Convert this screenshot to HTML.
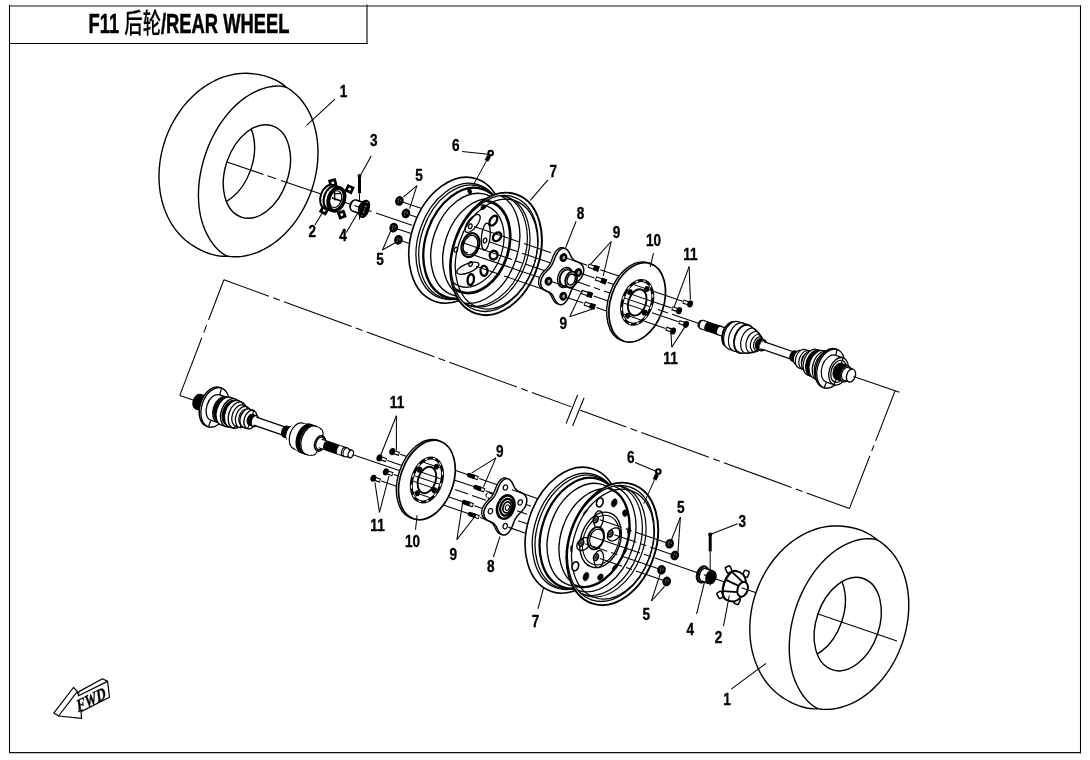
<!DOCTYPE html>
<html><head><meta charset="utf-8"><title>F11 后轮/REAR WHEEL</title>
<style>html,body{margin:0;padding:0;background:#fff}svg{display:block;filter:grayscale(1)}</style></head>
<body>
<svg width="1090" height="760" viewBox="0 0 1090 760" font-family="'Liberation Sans', 'Noto Sans CJK SC', sans-serif" fill="#000">
<rect x="0" y="0" width="1090" height="760" fill="#fff"/>
<path d="M9.5 4.8V752.6M1080.5 5.5V753.2" fill="none" stroke="#000" stroke-width="1.05"/>
<path d="M9 6H1081" fill="none" stroke="#111" stroke-width="1.15"/>
<path d="M9 752.65H1081" fill="none" stroke="#111" stroke-width="1.25"/>
<path d="M9.5 43.5H367.5" fill="none" stroke="#000" stroke-width="1.05"/>
<path d="M367 4.6V44" fill="none" stroke="#111" stroke-width="1.15"/>
<text id="title" transform="translate(88.6 32.6) scale(0.672 1)" font-size="27.3" font-weight="bold" stroke="#000" stroke-width="0.55">F11 <tspan font-weight="500" stroke-width="0.2">后轮</tspan>/REAR WHEEL</text>
<path d="M286.1 87.1 L283.03 84.62 L279.79 82.41 L276.4 80.47 L272.88 78.79 L269.24 77.35 L265.51 76.15 L261.7 75.17 L257.85 74.41 L253.96 73.84 L250.06 73.45 L246.15 73.28 L242.2 73.36 L238.24 73.68 L234.26 74.25 L230.29 75.07 L226.33 76.13 L222.4 77.43 L218.49 78.97 L214.64 80.75 L210.83 82.75 L207.1 84.97 L203.44 87.41 L199.87 90.05 L196.39 92.91 L193.02 95.95 L189.76 99.18 L186.63 102.59 L183.63 106.17 L180.77 109.91 L178.06 113.79 L175.5 117.81 L173.11 121.96 L170.88 126.22 L168.84 130.59 L166.97 135.04 L165.29 139.58 L163.8 144.18 L162.51 148.84 L161.41 153.54 L160.52 158.27 L159.83 163.01 L159.34 167.75 L159.06 172.49 L158.99 177.2 L159.13 181.87 L159.48 186.5 L160.03 191.06 L160.79 195.55 L161.75 199.95 L162.91 204.25 L164.27 208.45 L165.83 212.52 L167.57 216.45 L169.5 220.25 L171.6 223.88 L173.88 227.36 L176.33 230.66 L178.94 233.77 L181.7 236.7 L184.61 239.42 L187.65 241.94 L190.83 244.25 L194.12 246.38 L197.52 248.38 L201.01 250.21 L204.59 251.84 L208.26 253.26 L212 254.44 L215.8 255.35 L219.65 255.97 L223.56 256.28 L227.5 256.25 L227.5 256.25 L231.09 256.64 L234.72 256.78 L238.39 256.68 L242.08 256.34 L245.79 255.75 L249.51 254.92 L253.21 253.85 L256.91 252.54 L260.57 250.99 L264.2 249.21 L267.79 247.2 L271.32 244.96 L274.78 242.52 L278.17 239.87 L281.47 237.02 L284.68 233.98 L287.79 230.76 L290.78 227.36 L293.65 223.8 L296.39 220.08 L299 216.22 L301.47 212.23 L303.78 208.12 L305.94 203.89 L307.93 199.57 L309.76 195.15 L311.42 190.67 L312.89 186.12 L314.19 181.52 L315.3 176.89 L316.22 172.23 L316.95 167.56 L317.49 162.89 L317.83 158.24 L317.97 153.62 L317.93 149.03 L317.68 144.5 L317.24 140.04 L316.61 135.65 L315.78 131.36 L314.76 127.17 L313.56 123.09 L312.18 119.14 L310.61 115.32 L308.86 111.66 L306.94 108.18 L304.85 104.87 L302.59 101.74 L300.18 98.8 L297.62 96.06 L294.92 93.52 L292.1 91.17 L289.15 89.03 L286.1 87.1Z" fill="#fff" stroke="#000" stroke-width="1.4" stroke-linejoin="round"/>
<path d="M286.1 87.1 L283.1 86.47 L280.02 86.12 L276.87 86.05 L273.67 86.25 L270.43 86.69 L267.16 87.38 L263.87 88.3 L260.57 89.43 L257.29 90.77 L254.02 92.3 L250.78 94.03 L247.56 95.98 L244.38 98.15 L241.24 100.53 L238.15 103.11 L235.13 105.89 L232.17 108.86 L229.3 112.01 L226.51 115.33 L223.81 118.82 L221.22 122.45 L218.73 126.23 L216.36 130.14 L214.12 134.17 L212 138.3 L210.02 142.54 L208.18 146.86 L206.49 151.25 L204.95 155.7 L203.56 160.2 L202.34 164.73 L201.27 169.29 L200.37 173.85 L199.64 178.41 L199.08 182.96 L198.7 187.47 L198.48 191.95 L198.44 196.36 L198.58 200.71 L198.88 204.98 L199.36 209.16 L200.01 213.24 L200.83 217.19 L201.82 221.03 L202.97 224.72 L204.28 228.27 L205.75 231.66 L207.36 234.91 L209.1 238.05 L210.96 241.05 L212.95 243.89 L215.06 246.54 L217.3 248.98 L219.66 251.19 L222.15 253.16 L224.77 254.85 L227.5 256.25" fill="none" stroke="#000" stroke-width="1.4" stroke-linejoin="round"/>
<clipPath id="c258"><ellipse cx="256.9" cy="171.5" rx="31.47" ry="48.2" transform="rotate(18.9 256.9 171.5)"/></clipPath>
<g clip-path="url(#c258)">
<ellipse cx="221.6" cy="159.35" rx="30.89" ry="47.3" transform="rotate(18.9 221.6 159.35)" fill="none" stroke="#000" stroke-width="1.4" />
</g>
<ellipse cx="256.9" cy="171.5" rx="31.47" ry="48.2" transform="rotate(18.9 256.9 171.5)" fill="none" stroke="#000" stroke-width="1.4" />
<line x1="226.9" y1="161.9" x2="263.5" y2="174.43" stroke="#000" stroke-width="1.05" />
<line x1="267.5" y1="175.8" x2="276" y2="178.71" stroke="#000" stroke-width="1.05" />
<line x1="281" y1="180.42" x2="321" y2="194.12" stroke="#000" stroke-width="1.05" />
<line x1="343" y1="201.65" x2="354" y2="205.42" stroke="#000" stroke-width="1.05" />
<line x1="368" y1="210.21" x2="371.5" y2="211.41" stroke="#000" stroke-width="1.05" />
<line x1="376" y1="212.95" x2="412" y2="225.27" stroke="#000" stroke-width="1.05" />
<line x1="402.4" y1="201.93" x2="421" y2="208.3" stroke="#000" stroke-width="1.05" />
<line x1="408.9" y1="214.43" x2="417" y2="217.2" stroke="#000" stroke-width="1.05" />
<line x1="396.7" y1="228.63" x2="412" y2="233.87" stroke="#000" stroke-width="1.05" />
<line x1="401.4" y1="240.83" x2="413" y2="244.8" stroke="#000" stroke-width="1.05" />
<ellipse cx="399.4" cy="200.9" rx="4.3" ry="4.9" transform="rotate(18.9 399.4 200.9)" fill="#000"/>
<path d="M399.2 198.7l-1.1 2.0M401.3 199.6l-1.0 1.8M398.5 201.7l-0.6 1.3" stroke="#bbb" stroke-width="0.7" fill="none"/>
<ellipse cx="405.9" cy="213.4" rx="4.3" ry="4.9" transform="rotate(18.9 405.9 213.4)" fill="#000"/>
<path d="M405.7 211.2l-1.1 2.0M407.8 212.1l-1.0 1.8M405 214.2l-0.6 1.3" stroke="#bbb" stroke-width="0.7" fill="none"/>
<ellipse cx="393.7" cy="227.6" rx="4.3" ry="4.9" transform="rotate(18.9 393.7 227.6)" fill="#000"/>
<path d="M393.5 225.4l-1.1 2.0M395.6 226.3l-1.0 1.8M392.8 228.4l-0.6 1.3" stroke="#bbb" stroke-width="0.7" fill="none"/>
<ellipse cx="398.4" cy="239.8" rx="4.3" ry="4.9" transform="rotate(18.9 398.4 239.8)" fill="#000"/>
<path d="M398.2 237.6l-1.1 2.0M400.3 238.5l-1.0 1.8M397.5 240.6l-0.6 1.3" stroke="#bbb" stroke-width="0.7" fill="none"/>
<ellipse cx="455.98" cy="240.2" rx="44.64" ry="64.7" transform="rotate(18.9 455.98 240.2)" fill="#fff" stroke="#000" stroke-width="1.6" />
<ellipse cx="459.58" cy="241.43" rx="41.26" ry="59.8" transform="rotate(18.9 459.58 241.43)" fill="none" stroke="#000" stroke-width="1.25" />
<ellipse cx="461.56" cy="242.11" rx="40.5" ry="58.7" transform="rotate(18.9 461.56 242.11)" fill="none" stroke="#000" stroke-width="1.25" />
<ellipse cx="464.87" cy="243.24" rx="39.33" ry="57" transform="rotate(18.9 464.87 243.24)" fill="none" stroke="#000" stroke-width="2.3" />
<ellipse cx="469.32" cy="244.77" rx="36.5" ry="52.9" transform="rotate(18.9 469.32 244.77)" fill="none" stroke="#000" stroke-width="1.35" />
<ellipse cx="479.82" cy="248.36" rx="35.12" ry="50.9" transform="rotate(18.9 479.82 248.36)" fill="none" stroke="#000" stroke-width="1.35" />
<ellipse cx="496" cy="253.9" rx="43.4" ry="62.9" transform="rotate(18.9 496 253.9)" fill="#fff" stroke="#000" stroke-width="1.95" />
<ellipse cx="494.58" cy="253.41" rx="41.12" ry="59.6" transform="rotate(18.9 494.58 253.41)" fill="none" stroke="#000" stroke-width="1.3" />
<clipPath id="rimu"><ellipse cx="494.58" cy="253.41" rx="41.12" ry="59.6" transform="rotate(18.9 494.58 253.41)"/></clipPath>
<g clip-path="url(#rimu)">
<ellipse cx="496.47" cy="254.06" rx="38.98" ry="56.5" transform="rotate(18.9 496.47 254.06)" fill="none" stroke="#000" stroke-width="1.25" />
<ellipse cx="488.05" cy="251.18" rx="39.67" ry="57.5" transform="rotate(18.9 488.05 251.18)" fill="none" stroke="#000" stroke-width="1.2" />
<ellipse cx="485.4" cy="250.27" rx="39.67" ry="57.5" transform="rotate(18.9 485.4 250.27)" fill="none" stroke="#000" stroke-width="1.2" />
<ellipse cx="478.31" cy="247.84" rx="39.33" ry="57" transform="rotate(18.9 478.31 247.84)" fill="none" stroke="#000" stroke-width="1.35" />
<ellipse cx="475.66" cy="246.94" rx="32.71" ry="47.4" transform="rotate(18.9 475.66 246.94)" fill="none" stroke="#000" stroke-width="2.7" />
<ellipse cx="473.29" cy="246.13" rx="29.19" ry="42.3" transform="rotate(18.9 473.29 246.13)" fill="none" stroke="#000" stroke-width="1.25" />
<ellipse cx="483.6" cy="207.2" rx="3.4" ry="2.0" transform="rotate(-38 483.6 207.2)" fill="#000"/>
<ellipse cx="472.6" cy="223.4" rx="10.8" ry="4.7" transform="rotate(-52 472.6 223.4)" fill="none" stroke="#000" stroke-width="1.3"/>
<ellipse cx="485.8" cy="236.6" rx="13.5" ry="4.3" transform="rotate(-84 485.8 236.6)" fill="none" stroke="#000" stroke-width="1.3"/>
<ellipse cx="467.8" cy="268.2" rx="11.8" ry="4.5" transform="rotate(-22 467.8 268.2)" fill="none" stroke="#000" stroke-width="1.3"/>
<path d="M470.63 266.4 L471.04 266.22 L471.42 265.92 L471.76 265.53 L472.05 265.06 L472.26 264.55 L472.39 264.01 L472.43 263.47 L472.38 262.96 L472.24 262.5 L472.02 262.12 L471.73 261.84 L471.38 261.67 L471 261.61 L470.59 261.68 L470.19 261.87 L469.8 262.17 L469.46 262.56 L469.17 263.02 L468.96 263.54 L468.83 264.08 L468.79 264.62 L468.84 265.13 L468.98 265.59 L469.2 265.97 L469.49 266.25 L469.84 266.42 L470.22 266.47Z" fill="none" stroke="#000" stroke-width="1.3" stroke-linejoin="round"/>
<path d="M486.85 239.97 L486.8 239.46 L486.66 239 L486.44 238.62 L486.15 238.34 L485.8 238.17 L485.42 238.12 L485.01 238.19 L484.61 238.37 L484.22 238.67 L483.88 239.06 L483.59 239.52 L483.38 240.04 L483.25 240.58 L483.21 241.12 L483.26 241.63 L483.4 242.09 L483.62 242.47 L483.91 242.75 L484.26 242.92 L484.64 242.98 L485.05 242.91 L485.45 242.72 L485.84 242.42 L486.18 242.03 L486.47 241.57 L486.68 241.05 L486.81 240.51Z" fill="none" stroke="#000" stroke-width="1.3" stroke-linejoin="round"/>
<path d="M470.28 223.9 L469.88 224.09 L469.49 224.39 L469.15 224.78 L468.86 225.24 L468.65 225.76 L468.52 226.3 L468.48 226.84 L468.53 227.35 L468.67 227.81 L468.89 228.19 L469.18 228.47 L469.53 228.64 L469.91 228.7 L470.32 228.63 L470.72 228.44 L471.11 228.14 L471.45 227.75 L471.74 227.29 L471.95 226.77 L472.08 226.23 L472.12 225.69 L472.07 225.18 L471.93 224.72 L471.71 224.34 L471.42 224.06 L471.07 223.89 L470.69 223.84Z" fill="none" stroke="#000" stroke-width="1.3" stroke-linejoin="round"/>
<path d="M454.06 250.34 L454.11 250.85 L454.25 251.3 L454.47 251.68 L454.76 251.97 L455.11 252.14 L455.5 252.19 L455.9 252.12 L456.31 251.94 L456.69 251.64 L457.03 251.25 L457.32 250.78 L457.53 250.27 L457.66 249.73 L457.7 249.19 L457.65 248.67 L457.51 248.22 L457.29 247.84 L457 247.56 L456.65 247.38 L456.27 247.33 L455.86 247.4 L455.46 247.59 L455.07 247.88 L454.73 248.27 L454.45 248.74 L454.23 249.26 L454.1 249.8Z" fill="none" stroke="#000" stroke-width="1.3" stroke-linejoin="round"/>
<path d="M496.92 216.81 L496.47 216.22 L495.86 215.85 L495.13 215.71 L494.3 215.83 L493.43 216.19 L492.55 216.77 L491.72 217.54 L490.96 218.47 L490.33 219.51 L489.84 220.61 L489.54 221.7 L489.42 222.74 L489.5 223.68 L489.77 224.47 L490.23 225.06 L490.84 225.43 L491.57 225.56 L492.4 225.44 L493.27 225.08 L494.14 224.5 L494.98 223.73 L495.74 222.8 L496.37 221.76 L496.85 220.67 L497.16 219.57 L497.28 218.53 L497.2 217.59Z" fill="none" stroke="#000" stroke-width="2.3" stroke-linejoin="round"/>
<path d="M501.21 235.43 L501.1 234.54 L500.78 233.76 L500.28 233.13 L499.62 232.68 L498.82 232.43 L497.94 232.4 L497.02 232.59 L496.1 232.99 L495.22 233.57 L494.44 234.32 L493.78 235.18 L493.3 236.13 L493 237.1 L492.9 238.06 L493.01 238.95 L493.33 239.73 L493.83 240.36 L494.49 240.81 L495.28 241.06 L496.16 241.09 L497.09 240.9 L498.01 240.5 L498.89 239.92 L499.67 239.18 L500.32 238.31 L500.81 237.37 L501.11 236.39Z" fill="none" stroke="#000" stroke-width="2.3" stroke-linejoin="round"/>
<path d="M497.25 256.66 L497.51 255.71 L497.58 254.73 L497.44 253.76 L497.12 252.87 L496.62 252.08 L495.97 251.45 L495.21 251 L494.36 250.76 L493.48 250.73 L492.61 250.93 L491.78 251.33 L491.05 251.93 L490.45 252.68 L490.01 253.55 L489.75 254.51 L489.69 255.49 L489.82 256.45 L490.14 257.35 L490.64 258.13 L491.29 258.76 L492.06 259.21 L492.9 259.46 L493.78 259.48 L494.66 259.29 L495.48 258.88 L496.21 258.29 L496.81 257.54Z" fill="none" stroke="#000" stroke-width="2.3" stroke-linejoin="round"/>
<path d="M486.11 274.81 L486.68 274.05 L487.1 273.13 L487.37 272.09 L487.48 270.99 L487.4 269.88 L487.16 268.81 L486.76 267.85 L486.22 267.03 L485.57 266.4 L484.84 266 L484.07 265.83 L483.29 265.91 L482.55 266.24 L481.88 266.8 L481.32 267.56 L480.9 268.48 L480.63 269.51 L480.52 270.62 L480.6 271.73 L480.84 272.79 L481.24 273.76 L481.78 274.58 L482.43 275.2 L483.16 275.61 L483.93 275.78 L484.71 275.69 L485.45 275.37Z" fill="none" stroke="#000" stroke-width="2.3" stroke-linejoin="round"/>
<path d="M470.78 285.01 L471.5 284.65 L472.17 284.04 L472.77 283.2 L473.27 282.19 L473.65 281.05 L473.87 279.84 L473.94 278.61 L473.85 277.44 L473.61 276.38 L473.22 275.48 L472.7 274.79 L472.09 274.34 L471.41 274.15 L470.69 274.24 L469.98 274.6 L469.31 275.22 L468.71 276.05 L468.2 277.06 L467.83 278.2 L467.6 279.42 L467.53 280.64 L467.62 281.81 L467.87 282.88 L468.26 283.78 L468.77 284.47 L469.39 284.92 L470.07 285.1Z" fill="none" stroke="#000" stroke-width="2.3" stroke-linejoin="round"/>
<ellipse cx="470.46" cy="245.15" rx="8.49" ry="12.3" transform="rotate(18.9 470.46 245.15)" fill="#fff" stroke="#000" stroke-width="2.2" />
<ellipse cx="470.46" cy="245.15" rx="6.9" ry="10" transform="rotate(18.9 470.46 245.15)" fill="none" stroke="#000" stroke-width="1.3" />
</g>
<line x1="474" y1="226.44" x2="520" y2="242.19" stroke="#000" stroke-width="1.05" />
<line x1="524" y1="243.56" x2="551" y2="252.8" stroke="#000" stroke-width="1.05" />
<line x1="489" y1="241.85" x2="518" y2="251.78" stroke="#000" stroke-width="1.05" />
<line x1="522" y1="253.15" x2="566" y2="268.21" stroke="#000" stroke-width="1.05" />
<line x1="476" y1="266.37" x2="500" y2="274.59" stroke="#000" stroke-width="1.05" />
<line x1="504" y1="275.95" x2="548" y2="291.02" stroke="#000" stroke-width="1.05" />
<line x1="462" y1="250.98" x2="468" y2="253.04" stroke="#000" stroke-width="1.05" />
<line x1="472" y1="254.41" x2="541" y2="278.03" stroke="#000" stroke-width="1.05" />
<line x1="462" y1="242.39" x2="512" y2="259.51" stroke="#000" stroke-width="1.05" />
<line x1="516" y1="260.88" x2="522" y2="262.94" stroke="#000" stroke-width="1.05" />
<line x1="526" y1="264.3" x2="552" y2="273.21" stroke="#000" stroke-width="1.05" />
<path d="M552.4 298.32 L553.38 300.17 L554.59 301.88 L556.06 303.22 L557.75 303.95 L559.6 303.95 L561.47 303.17 L563.25 301.67 L564.83 299.63 L566.16 297.27 L567.24 294.81 L568.14 292.48 L568.95 290.39 L569.77 288.58 L570.68 287 L571.65 285.51 L572.78 284.08 L574.12 282.66 L575.67 281.11 L577.32 279.34 L578.92 277.29 L580.28 274.97 L581.25 272.47 L581.67 269.95 L581.51 267.57 L580.77 265.48 L579.57 263.79 L578.06 262.52 L576.42 261.6 L574.83 260.91 L573.41 260.29 L572.21 259.59 L571.2 258.72 L570.28 257.73 L569.45 256.52 L568.66 255.01 L567.83 253.25 L566.85 251.41 L565.65 249.69 L564.18 248.36 L562.48 247.62 L560.64 247.62 L558.77 248.41 L556.99 249.9 L555.41 251.94 L554.08 254.31 L552.99 256.76 L552.09 259.1 L551.28 261.19 L550.46 263 L549.56 264.58 L548.59 266.07 L547.46 267.49 L546.12 268.92 L544.57 270.46 L542.92 272.23 L541.32 274.29 L539.95 276.61 L538.99 279.1 L538.56 281.62 L538.73 284.01 L539.47 286.09 L540.67 287.78 L542.18 289.06 L543.82 289.97 L545.41 290.66 L546.83 291.28 L548.03 291.99 L549.04 292.85 L549.96 293.84 L550.79 295.05 L551.57 296.56Z" fill="#fff" stroke="#000" stroke-width="1.3" stroke-linejoin="round"/>
<path d="M554.48 299.03 L555.46 300.88 L556.67 302.59 L558.14 303.93 L559.83 304.67 L561.68 304.66 L563.55 303.88 L565.33 302.39 L566.91 300.35 L568.24 297.98 L569.33 295.53 L570.22 293.19 L571.03 291.1 L571.86 289.29 L572.76 287.71 L573.73 286.22 L574.86 284.79 L576.2 283.37 L577.75 281.82 L579.4 280.05 L581 278 L582.37 275.68 L583.33 273.19 L583.76 270.66 L583.59 268.28 L582.85 266.19 L581.65 264.5 L580.14 263.23 L578.5 262.31 L576.91 261.63 L575.49 261 L574.29 260.3 L573.28 259.43 L572.36 258.45 L571.53 257.23 L570.74 255.72 L569.92 253.97 L568.94 252.12 L567.73 250.41 L566.26 249.07 L564.57 248.33 L562.72 248.34 L560.85 249.12 L559.07 250.61 L557.49 252.65 L556.16 255.02 L555.07 257.47 L554.18 259.81 L553.37 261.9 L552.54 263.71 L551.64 265.29 L550.67 266.78 L549.54 268.21 L548.2 269.63 L546.65 271.18 L545 272.95 L543.4 275 L542.03 277.32 L541.07 279.81 L540.64 282.34 L540.81 284.72 L541.55 286.81 L542.75 288.5 L544.26 289.77 L545.9 290.69 L547.49 291.37 L548.91 292 L550.11 292.7 L551.12 293.57 L552.04 294.55 L552.87 295.77 L553.66 297.28Z" fill="#fff" stroke="#000" stroke-width="1.5" stroke-linejoin="round"/>
<ellipse cx="565.04" cy="277.47" rx="7.18" ry="10.4" transform="rotate(18.9 565.04 277.47)" fill="#fff" stroke="#000" stroke-width="1.3" />
<ellipse cx="565.98" cy="277.8" rx="6.42" ry="9.3" transform="rotate(18.9 565.98 277.8)" fill="#fff" stroke="#000" stroke-width="1.2" />
<ellipse cx="565.98" cy="277.8" rx="5.66" ry="8.2" transform="rotate(18.9 565.98 277.8)" fill="#fff" stroke="#000" stroke-width="1.2" />
<path d="M568.64 270.04 L573.84 271.82 L568.53 287.34 L563.33 285.55Z" fill="#fff" stroke="none"/>
<line x1="568.64" y1="270.04" x2="573.84" y2="271.82" stroke="#000" stroke-width="1.2" />
<line x1="563.33" y1="285.55" x2="568.53" y2="287.34" stroke="#000" stroke-width="1.2" />
<ellipse cx="571.19" cy="279.58" rx="5.66" ry="8.2" transform="rotate(18.9 571.19 279.58)" fill="#fff" stroke="#000" stroke-width="1.8" />
<ellipse cx="571.19" cy="279.58" rx="3.86" ry="5.6" transform="rotate(18.9 571.19 279.58)" fill="#fff" stroke="#000" stroke-width="1.5" />
<ellipse cx="563.23" cy="296.23" rx="3.9" ry="4.5" transform="rotate(18.9 563.23 296.23)" fill="#000"/>
<ellipse cx="563.73" cy="296.23" rx="1.3" ry="1.8" transform="rotate(18.9 563.23 296.23)" fill="#aaa"/>
<ellipse cx="578.2" cy="272.53" rx="3.9" ry="4.5" transform="rotate(18.9 578.2 272.53)" fill="#000"/>
<ellipse cx="578.7" cy="272.53" rx="1.3" ry="1.8" transform="rotate(18.9 578.2 272.53)" fill="#aaa"/>
<ellipse cx="563.44" cy="257.54" rx="3.9" ry="4.5" transform="rotate(18.9 563.44 257.54)" fill="#000"/>
<ellipse cx="563.94" cy="257.54" rx="1.3" ry="1.8" transform="rotate(18.9 563.44 257.54)" fill="#aaa"/>
<ellipse cx="548.47" cy="281.25" rx="3.9" ry="4.5" transform="rotate(18.9 548.47 281.25)" fill="#000"/>
<ellipse cx="548.97" cy="281.25" rx="1.3" ry="1.8" transform="rotate(18.9 548.47 281.25)" fill="#aaa"/>
<line x1="600.2" y1="269.65" x2="627" y2="278.82" stroke="#000" stroke-width="1.05" />
<line x1="607.6" y1="282.46" x2="616" y2="285.33" stroke="#000" stroke-width="1.05" />
<line x1="593.6" y1="296.04" x2="611" y2="302" stroke="#000" stroke-width="1.05" />
<line x1="596.3" y1="307.56" x2="610" y2="312.25" stroke="#000" stroke-width="1.05" />
<line x1="566" y1="257.94" x2="587.2" y2="265.2" stroke="#000" stroke-width="1.05" />
<line x1="580" y1="273.01" x2="594.6" y2="278.01" stroke="#000" stroke-width="1.05" />
<line x1="552" y1="281.8" x2="580.6" y2="291.59" stroke="#000" stroke-width="1.05" />
<line x1="566" y1="297.18" x2="583.3" y2="303.11" stroke="#000" stroke-width="1.05" />
<line x1="575" y1="281.08" x2="590" y2="286.22" stroke="#000" stroke-width="1.05" />
<line x1="594" y1="287.59" x2="600" y2="289.64" stroke="#000" stroke-width="1.05" />
<line x1="604" y1="291.01" x2="612" y2="293.75" stroke="#000" stroke-width="1.05" />
<line x1="593.83" y1="267.47" x2="588.16" y2="265.53" stroke="#000" stroke-width="4.4"/>
<line x1="593.83" y1="267.47" x2="589.01" y2="265.82" stroke="#fff" stroke-width="2.2"/>
<line x1="593.55" y1="267.37" x2="599.04" y2="269.25" stroke="#000" stroke-width="5.6" stroke-linecap="butt"/>
<line x1="601.23" y1="280.28" x2="595.56" y2="278.33" stroke="#000" stroke-width="4.4"/>
<line x1="601.23" y1="280.28" x2="596.41" y2="278.63" stroke="#fff" stroke-width="2.2"/>
<line x1="600.95" y1="280.18" x2="606.44" y2="282.06" stroke="#000" stroke-width="5.6" stroke-linecap="butt"/>
<line x1="587.23" y1="293.86" x2="581.56" y2="291.92" stroke="#000" stroke-width="4.4"/>
<line x1="587.23" y1="293.86" x2="582.41" y2="292.21" stroke="#fff" stroke-width="2.2"/>
<line x1="586.95" y1="293.76" x2="592.44" y2="295.64" stroke="#000" stroke-width="5.6" stroke-linecap="butt"/>
<line x1="589.93" y1="305.38" x2="584.26" y2="303.43" stroke="#000" stroke-width="4.4"/>
<line x1="589.93" y1="305.38" x2="585.11" y2="303.73" stroke="#fff" stroke-width="2.2"/>
<line x1="589.65" y1="305.28" x2="595.14" y2="307.16" stroke="#000" stroke-width="5.6" stroke-linecap="butt"/>
<ellipse cx="635.02" cy="301.65" rx="26.45" ry="41" transform="rotate(18.9 635.02 301.65)" fill="#fff" stroke="#000" stroke-width="1.4" />
<ellipse cx="637.2" cy="302.4" rx="26.45" ry="41" transform="rotate(18.9 637.2 302.4)" fill="#fff" stroke="#000" stroke-width="1.7" />
<ellipse cx="637.2" cy="302.4" rx="14.58" ry="22.6" transform="rotate(18.9 637.2 302.4)" fill="#fff" stroke="#000" stroke-width="3.0" />
<line x1="628.71" y1="323.29" x2="631.11" y2="324.11" stroke="#fff" stroke-width="1.1"/>
<line x1="636.39" y1="323.77" x2="639.11" y2="322.62" stroke="#fff" stroke-width="1.1"/>
<line x1="644.3" y1="318.53" x2="646.61" y2="315.72" stroke="#fff" stroke-width="1.1"/>
<line x1="650.3" y1="308.97" x2="651.58" y2="305.24" stroke="#fff" stroke-width="1.1"/>
<line x1="652.79" y1="297.64" x2="652.7" y2="294" stroke="#fff" stroke-width="1.1"/>
<line x1="651.11" y1="287.59" x2="649.66" y2="285.02" stroke="#fff" stroke-width="1.1"/>
<line x1="645.69" y1="281.51" x2="643.29" y2="280.69" stroke="#fff" stroke-width="1.1"/>
<line x1="638.01" y1="281.03" x2="635.29" y2="282.18" stroke="#fff" stroke-width="1.1"/>
<line x1="630.1" y1="286.27" x2="627.79" y2="289.08" stroke="#fff" stroke-width="1.1"/>
<line x1="624.1" y1="295.83" x2="622.82" y2="299.56" stroke="#fff" stroke-width="1.1"/>
<line x1="621.61" y1="307.16" x2="621.7" y2="310.8" stroke="#fff" stroke-width="1.1"/>
<line x1="623.29" y1="317.21" x2="624.74" y2="319.78" stroke="#fff" stroke-width="1.1"/>
<ellipse cx="637.2" cy="302.4" rx="8.77" ry="13.6" transform="rotate(18.9 637.2 302.4)" fill="none" stroke="#000" stroke-width="1.9" />
<clipPath id="dcu"><ellipse cx="637.2" cy="302.4" rx="13.29" ry="20.6" transform="rotate(18.9 637.2 302.4)"/></clipPath>
<g clip-path="url(#dcu)">
<line x1="600" y1="273.05" x2="680" y2="300.44" stroke="#000" stroke-width="1.0" />
<line x1="600" y1="283.52" x2="680" y2="310.91" stroke="#000" stroke-width="1.0" />
<line x1="600" y1="294.96" x2="680" y2="322.35" stroke="#000" stroke-width="1.0" />
<line x1="600" y1="306.01" x2="680" y2="333.4" stroke="#000" stroke-width="1.0" />
<line x1="600" y1="289.64" x2="680" y2="317.03" stroke="#000" stroke-width="1.0" />
<ellipse cx="644.4" cy="312.59" rx="2.6" ry="3.0" transform="rotate(18.9 644.4 312.59)" fill="#000"/>
<ellipse cx="646.74" cy="289.09" rx="2.6" ry="3.0" transform="rotate(18.9 646.74 289.09)" fill="#000"/>
<ellipse cx="630" cy="292.21" rx="2.6" ry="3.0" transform="rotate(18.9 630 292.21)" fill="#000"/>
<ellipse cx="627.66" cy="315.71" rx="2.6" ry="3.0" transform="rotate(18.9 627.66 315.71)" fill="#000"/>
</g>
<line x1="654" y1="291.54" x2="682.6" y2="301.33" stroke="#000" stroke-width="1.05" />
<line x1="651" y1="300.98" x2="671.6" y2="308.03" stroke="#000" stroke-width="1.05" />
<line x1="652" y1="312.76" x2="678.5" y2="321.83" stroke="#000" stroke-width="1.05" />
<line x1="644" y1="321.07" x2="665.5" y2="328.43" stroke="#000" stroke-width="1.05" />
<line x1="658" y1="309.5" x2="668" y2="312.92" stroke="#000" stroke-width="1.05" />
<line x1="672" y1="314.29" x2="699" y2="323.54" stroke="#000" stroke-width="1.05" />
<line x1="688.21" y1="303.25" x2="683" y2="301.47" stroke="#000" stroke-width="4.2"/>
<line x1="688.21" y1="303.25" x2="683.76" y2="301.73" stroke="#fff" stroke-width="1.9"/>
<ellipse cx="690.1" cy="303.9" rx="2.9" ry="3.6" transform="rotate(18.9 690.1 303.9)" fill="#000"/>
<line x1="677.21" y1="309.95" x2="672" y2="308.17" stroke="#000" stroke-width="4.2"/>
<line x1="677.21" y1="309.95" x2="672.76" y2="308.43" stroke="#fff" stroke-width="1.9"/>
<ellipse cx="679.1" cy="310.6" rx="2.9" ry="3.6" transform="rotate(18.9 679.1 310.6)" fill="#000"/>
<line x1="684.11" y1="323.75" x2="678.9" y2="321.97" stroke="#000" stroke-width="4.2"/>
<line x1="684.11" y1="323.75" x2="679.66" y2="322.23" stroke="#fff" stroke-width="1.9"/>
<ellipse cx="686" cy="324.4" rx="2.9" ry="3.6" transform="rotate(18.9 686 324.4)" fill="#000"/>
<line x1="671.11" y1="330.35" x2="665.9" y2="328.57" stroke="#000" stroke-width="4.2"/>
<line x1="671.11" y1="330.35" x2="666.66" y2="328.83" stroke="#fff" stroke-width="1.9"/>
<ellipse cx="673" cy="331" rx="2.9" ry="3.6" transform="rotate(18.9 673 331)" fill="#000"/>
<ellipse cx="700.6" cy="324.08" rx="2.32" ry="3.6" transform="rotate(18.9 700.6 324.08)" fill="#fff" stroke="#000" stroke-width="1.2" />
<path d="M701.77 320.68 L703.63 320.47 L700.77 328.79 L699.43 327.49Z" fill="#fff" stroke="none"/>
<line x1="701.77" y1="320.68" x2="703.63" y2="320.47" stroke="#000" stroke-width="1.2" />
<line x1="699.43" y1="327.49" x2="700.77" y2="328.79" stroke="#000" stroke-width="1.2" />
<ellipse cx="702.2" cy="324.63" rx="2.84" ry="4.4" transform="rotate(18.9 702.2 324.63)" fill="#fff" stroke="#000" stroke-width="1.2" />
<path d="M703.63 320.47 L709.43 322.45 L706.57 330.78 L700.77 328.79Z" fill="#fff" stroke="none"/>
<line x1="703.63" y1="320.47" x2="709.43" y2="322.45" stroke="#000" stroke-width="1.2" />
<line x1="700.77" y1="328.79" x2="706.57" y2="330.78" stroke="#000" stroke-width="1.2" />
<ellipse cx="708" cy="326.62" rx="2.84" ry="4.4" transform="rotate(18.9 708 326.62)" fill="#000" stroke="#000" stroke-width="1.2" />
<path d="M709.43 322.45 L720.93 326.39 L718.07 334.72 L706.57 330.78Z" fill="#000" stroke="none"/>
<line x1="709.43" y1="322.45" x2="720.93" y2="326.39" stroke="#000" stroke-width="1.2" />
<line x1="706.57" y1="330.78" x2="718.07" y2="334.72" stroke="#000" stroke-width="1.2" />
<ellipse cx="719.5" cy="330.55" rx="2.84" ry="4.4" transform="rotate(18.9 719.5 330.55)" fill="#fff" stroke="#000" stroke-width="1.2" />
<path d="M720.93 326.39 L730.43 329.64 L727.57 337.97 L718.07 334.72Z" fill="#fff" stroke="none"/>
<line x1="720.93" y1="326.39" x2="730.43" y2="329.64" stroke="#000" stroke-width="1.2" />
<line x1="718.07" y1="334.72" x2="727.57" y2="337.97" stroke="#000" stroke-width="1.2" />
<ellipse cx="729" cy="333.81" rx="2.84" ry="4.4" transform="rotate(18.9 729 333.81)" fill="#fff" stroke="#000" stroke-width="1.2" />
<ellipse cx="729.5" cy="333.98" rx="6.45" ry="10" transform="rotate(18.9 729.5 333.98)" fill="#fff" stroke="#000" stroke-width="1.8" />
<path d="M732.74 324.52 L735.15 322.38 L726.85 346.6 L726.26 343.44Z" fill="#fff" stroke="none"/>
<line x1="732.74" y1="324.52" x2="735.15" y2="322.38" stroke="#000" stroke-width="1.2" />
<line x1="726.26" y1="343.44" x2="726.85" y2="346.6" stroke="#000" stroke-width="1.2" />
<ellipse cx="731" cy="334.49" rx="8.26" ry="12.8" transform="rotate(18.9 731 334.49)" fill="#fff" stroke="#000" stroke-width="2.0" />
<path d="M735.15 322.38 L738.16 321.72 L728.84 348.97 L726.85 346.6Z" fill="#fff" stroke="none"/>
<line x1="735.15" y1="322.38" x2="738.16" y2="321.72" stroke="#000" stroke-width="1.2" />
<line x1="726.85" y1="346.6" x2="728.84" y2="348.97" stroke="#000" stroke-width="1.2" />
<ellipse cx="733.5" cy="335.35" rx="9.29" ry="14.4" transform="rotate(18.9 733.5 335.35)" fill="#fff" stroke="#000" stroke-width="1.2" />
<path d="M738.16 321.72 L743.26 323.15 L733.74 350.97 L728.84 348.97Z" fill="#fff" stroke="none"/>
<line x1="738.16" y1="321.72" x2="743.26" y2="323.15" stroke="#000" stroke-width="1.2" />
<line x1="728.84" y1="348.97" x2="733.74" y2="350.97" stroke="#000" stroke-width="1.2" />
<ellipse cx="738.5" cy="337.06" rx="9.48" ry="14.7" transform="rotate(18.9 738.5 337.06)" fill="#fff" stroke="#000" stroke-width="1.2" />
<path d="M743.26 323.15 L748.73 325.13 L739.27 352.76 L733.74 350.97Z" fill="#fff" stroke="none"/>
<line x1="743.26" y1="323.15" x2="748.73" y2="325.13" stroke="#000" stroke-width="1.2" />
<line x1="733.74" y1="350.97" x2="739.27" y2="352.76" stroke="#000" stroke-width="1.2" />
<ellipse cx="744" cy="338.94" rx="9.42" ry="14.6" transform="rotate(18.9 744 338.94)" fill="#fff" stroke="#000" stroke-width="1.9" />
<path d="M748.73 325.13 L753.71 328.53 L745.29 353.13 L739.27 352.76Z" fill="#fff" stroke="none"/>
<line x1="748.73" y1="325.13" x2="753.71" y2="328.53" stroke="#000" stroke-width="1.2" />
<line x1="739.27" y1="352.76" x2="745.29" y2="353.13" stroke="#000" stroke-width="1.2" />
<ellipse cx="749.5" cy="340.83" rx="8.38" ry="13" transform="rotate(18.9 749.5 340.83)" fill="#fff" stroke="#000" stroke-width="1.2" />
<path d="M753.71 328.53 L757.06 331.79 L749.94 352.6 L745.29 353.13Z" fill="#fff" stroke="none"/>
<line x1="753.71" y1="328.53" x2="757.06" y2="331.79" stroke="#000" stroke-width="1.2" />
<line x1="745.29" y1="353.13" x2="749.94" y2="352.6" stroke="#000" stroke-width="1.2" />
<ellipse cx="753.5" cy="342.2" rx="7.1" ry="11" transform="rotate(18.9 753.5 342.2)" fill="#fff" stroke="#000" stroke-width="1.2" />
<path d="M757.06 331.79 L759.42 334.71 L753.58 351.74 L749.94 352.6Z" fill="#fff" stroke="none"/>
<line x1="757.06" y1="331.79" x2="759.42" y2="334.71" stroke="#000" stroke-width="1.2" />
<line x1="749.94" y1="352.6" x2="753.58" y2="351.74" stroke="#000" stroke-width="1.2" />
<ellipse cx="756.5" cy="343.22" rx="5.8" ry="9" transform="rotate(18.9 756.5 343.22)" fill="#fff" stroke="#000" stroke-width="1.2" />
<path d="M759.42 334.71 L760.83 337.1 L756.17 350.72 L753.58 351.74Z" fill="#fff" stroke="none"/>
<line x1="759.42" y1="334.71" x2="760.83" y2="337.1" stroke="#000" stroke-width="1.2" />
<line x1="753.58" y1="351.74" x2="756.17" y2="350.72" stroke="#000" stroke-width="1.2" />
<ellipse cx="758.5" cy="343.91" rx="4.64" ry="7.2" transform="rotate(18.9 758.5 343.91)" fill="#fff" stroke="#000" stroke-width="1.2" />
<path d="M760.83 337.1 L761.31 338.95 L757.69 349.55 L756.17 350.72Z" fill="#fff" stroke="none"/>
<line x1="760.83" y1="337.1" x2="761.31" y2="338.95" stroke="#000" stroke-width="1.2" />
<line x1="756.17" y1="350.72" x2="757.69" y2="349.55" stroke="#000" stroke-width="1.2" />
<ellipse cx="759.5" cy="344.25" rx="3.61" ry="5.6" transform="rotate(18.9 759.5 344.25)" fill="#000" stroke="#000" stroke-width="1.6" />
<path d="M761.31 338.95 L764.31 339.98 L760.69 350.57 L757.69 349.55Z" fill="#000" stroke="none"/>
<line x1="761.31" y1="338.95" x2="764.31" y2="339.98" stroke="#000" stroke-width="1.2" />
<line x1="757.69" y1="349.55" x2="760.69" y2="350.57" stroke="#000" stroke-width="1.2" />
<ellipse cx="762.5" cy="345.28" rx="3.61" ry="5.6" transform="rotate(18.9 762.5 345.28)" fill="#fff" stroke="#000" stroke-width="1.4" />
<path d="M764.31 339.98 L763.86 341.62 L761.34 349 L760.69 350.57Z" fill="#fff" stroke="none"/>
<line x1="764.31" y1="339.98" x2="763.86" y2="341.62" stroke="#000" stroke-width="1.2" />
<line x1="760.69" y1="350.57" x2="761.34" y2="349" stroke="#000" stroke-width="1.2" />
<ellipse cx="762.6" cy="345.31" rx="2.52" ry="3.9" transform="rotate(18.9 762.6 345.31)" fill="#fff" stroke="#000" stroke-width="1.0" />
<ellipse cx="762.6" cy="345.31" rx="2.52" ry="3.9" transform="rotate(18.9 762.6 345.31)" fill="#fff" stroke="none" stroke-width="0.01" />
<path d="M763.86 341.62 L796.26 352.71 L793.74 360.09 L761.34 349Z" fill="#fff" stroke="none"/>
<line x1="763.86" y1="341.62" x2="796.26" y2="352.71" stroke="#000" stroke-width="1.2" />
<line x1="761.34" y1="349" x2="793.74" y2="360.09" stroke="#000" stroke-width="1.2" />
<ellipse cx="795" cy="356.4" rx="2.52" ry="3.9" transform="rotate(18.9 795 356.4)" fill="#fff" stroke="none" stroke-width="0.01" />
<ellipse cx="793.5" cy="355.89" rx="3.35" ry="5.2" transform="rotate(18.9 793.5 355.89)" fill="#000" stroke="#000" stroke-width="1.2" />
<path d="M795.18 350.97 L799.68 352.51 L796.32 362.35 L791.82 360.81Z" fill="#000" stroke="none"/>
<line x1="795.18" y1="350.97" x2="799.68" y2="352.51" stroke="#000" stroke-width="1.2" />
<line x1="791.82" y1="360.81" x2="796.32" y2="362.35" stroke="#000" stroke-width="1.2" />
<ellipse cx="798" cy="357.43" rx="3.35" ry="5.2" transform="rotate(18.9 798 357.43)" fill="#fff" stroke="#000" stroke-width="1.15" />
<path d="M799.68 352.51 L800.93 350.51 L796.07 364.7 L796.32 362.35Z" fill="#fff" stroke="none"/>
<line x1="799.68" y1="352.51" x2="800.93" y2="350.51" stroke="#000" stroke-width="1.2" />
<line x1="796.32" y1="362.35" x2="796.07" y2="364.7" stroke="#000" stroke-width="1.2" />
<ellipse cx="798.5" cy="357.6" rx="4.84" ry="7.5" transform="rotate(18.9 798.5 357.6)" fill="#fff" stroke="#000" stroke-width="1.15" />
<path d="M800.93 350.51 L805.14 349.62 L798.86 367.98 L796.07 364.7Z" fill="#fff" stroke="none"/>
<line x1="800.93" y1="350.51" x2="805.14" y2="349.62" stroke="#000" stroke-width="1.2" />
<line x1="796.07" y1="364.7" x2="798.86" y2="367.98" stroke="#000" stroke-width="1.2" />
<ellipse cx="802" cy="358.8" rx="6.26" ry="9.7" transform="rotate(18.9 802 358.8)" fill="#fff" stroke="#000" stroke-width="1.15" />
<path d="M805.14 349.62 L808.64 350.82 L802.36 369.18 L798.86 367.98Z" fill="#fff" stroke="none"/>
<line x1="805.14" y1="349.62" x2="808.64" y2="350.82" stroke="#000" stroke-width="1.2" />
<line x1="798.86" y1="367.98" x2="802.36" y2="369.18" stroke="#000" stroke-width="1.2" />
<ellipse cx="805.5" cy="360" rx="6.26" ry="9.7" transform="rotate(18.9 805.5 360)" fill="#fff" stroke="#000" stroke-width="1.15" />
<path d="M808.64 350.82 L809.66 352.75 L804.34 368.27 L802.36 369.18Z" fill="#fff" stroke="none"/>
<line x1="808.64" y1="350.82" x2="809.66" y2="352.75" stroke="#000" stroke-width="1.2" />
<line x1="802.36" y1="369.18" x2="804.34" y2="368.27" stroke="#000" stroke-width="1.2" />
<ellipse cx="807" cy="360.51" rx="5.29" ry="8.2" transform="rotate(18.9 807 360.51)" fill="#fff" stroke="#000" stroke-width="1.15" />
<path d="M809.66 352.75 L812.5 350.98 L805.5 371.42 L804.34 368.27Z" fill="#fff" stroke="none"/>
<line x1="809.66" y1="352.75" x2="812.5" y2="350.98" stroke="#000" stroke-width="1.2" />
<line x1="804.34" y1="368.27" x2="805.5" y2="371.42" stroke="#000" stroke-width="1.2" />
<ellipse cx="809" cy="361.2" rx="6.97" ry="10.8" transform="rotate(18.9 809 361.2)" fill="#fff" stroke="#000" stroke-width="1.15" />
<path d="M812.5 350.98 L816.91 349.53 L808.09 375.26 L805.5 371.42Z" fill="#fff" stroke="none"/>
<line x1="812.5" y1="350.98" x2="816.91" y2="349.53" stroke="#000" stroke-width="1.2" />
<line x1="805.5" y1="371.42" x2="808.09" y2="375.26" stroke="#000" stroke-width="1.2" />
<ellipse cx="812.5" cy="362.4" rx="8.77" ry="13.6" transform="rotate(18.9 812.5 362.4)" fill="#fff" stroke="#000" stroke-width="1.15" />
<path d="M816.91 349.53 L819.41 350.38 L810.59 376.12 L808.09 375.26Z" fill="#fff" stroke="none"/>
<line x1="816.91" y1="349.53" x2="819.41" y2="350.38" stroke="#000" stroke-width="1.2" />
<line x1="808.09" y1="375.26" x2="810.59" y2="376.12" stroke="#000" stroke-width="1.2" />
<ellipse cx="815" cy="363.25" rx="8.77" ry="13.6" transform="rotate(18.9 815 363.25)" fill="#000" stroke="#000" stroke-width="1.15" />
<path d="M819.41 350.38 L822.58 352.53 L814.42 376.37 L810.59 376.12Z" fill="#000" stroke="none"/>
<line x1="819.41" y1="350.38" x2="822.58" y2="352.53" stroke="#000" stroke-width="1.2" />
<line x1="810.59" y1="376.12" x2="814.42" y2="376.37" stroke="#000" stroke-width="1.2" />
<ellipse cx="818.5" cy="364.45" rx="8.13" ry="12.6" transform="rotate(18.9 818.5 364.45)" fill="#fff" stroke="#000" stroke-width="1.15" />
<path d="M822.58 352.53 L823.73 350.81 L814.27 378.43 L814.42 376.37Z" fill="#fff" stroke="none"/>
<line x1="822.58" y1="352.53" x2="823.73" y2="350.81" stroke="#000" stroke-width="1.2" />
<line x1="814.42" y1="376.37" x2="814.27" y2="378.43" stroke="#000" stroke-width="1.2" />
<ellipse cx="819" cy="364.62" rx="9.42" ry="14.6" transform="rotate(18.9 819 364.62)" fill="#fff" stroke="#000" stroke-width="1.15" />
<path d="M823.73 350.81 L828.05 351.23 L817.95 380.75 L814.27 378.43Z" fill="#fff" stroke="none"/>
<line x1="823.73" y1="350.81" x2="828.05" y2="351.23" stroke="#000" stroke-width="1.2" />
<line x1="814.27" y1="378.43" x2="817.95" y2="380.75" stroke="#000" stroke-width="1.2" />
<ellipse cx="823" cy="365.99" rx="10.06" ry="15.6" transform="rotate(18.9 823 365.99)" fill="#fff" stroke="#000" stroke-width="1.15" />
<path d="M828.05 351.23 L830.05 351.92 L819.95 381.43 L817.95 380.75Z" fill="#fff" stroke="none"/>
<line x1="828.05" y1="351.23" x2="830.05" y2="351.92" stroke="#000" stroke-width="1.2" />
<line x1="817.95" y1="380.75" x2="819.95" y2="381.43" stroke="#000" stroke-width="1.2" />
<ellipse cx="825" cy="366.68" rx="10.06" ry="15.6" transform="rotate(18.9 825 366.68)" fill="#fff" stroke="#000" stroke-width="1.15" />
<path d="M830.05 351.92 L835.74 349 L822.66 387.22 L819.95 381.43Z" fill="#fff" stroke="none"/>
<line x1="830.05" y1="351.92" x2="835.74" y2="349" stroke="#000" stroke-width="1.2" />
<line x1="819.95" y1="381.43" x2="822.66" y2="387.22" stroke="#000" stroke-width="1.2" />
<ellipse cx="829.2" cy="368.11" rx="13.03" ry="20.2" transform="rotate(18.9 829.2 368.11)" fill="#fff" stroke="#000" stroke-width="1.5" />
<path d="M835.74 349 L837.24 349.52 L824.16 387.74 L822.66 387.22Z" fill="#fff" stroke="none"/>
<line x1="835.74" y1="349" x2="837.24" y2="349.52" stroke="#000" stroke-width="1.2" />
<line x1="822.66" y1="387.22" x2="824.16" y2="387.74" stroke="#000" stroke-width="1.2" />
<ellipse cx="830.7" cy="368.63" rx="13.03" ry="20.2" transform="rotate(18.9 830.7 368.63)" fill="#fff" stroke="#000" stroke-width="1.3" />
<path d="M837.24 349.52 L835.6 355.3 L826.4 382.16 L824.16 387.74Z" fill="#fff" stroke="none"/>
<line x1="837.24" y1="349.52" x2="835.6" y2="355.3" stroke="#000" stroke-width="1.2" />
<line x1="824.16" y1="387.74" x2="826.4" y2="382.16" stroke="#000" stroke-width="1.2" />
<ellipse cx="831" cy="368.73" rx="9.16" ry="14.2" transform="rotate(18.9 831 368.73)" fill="#fff" stroke="#000" stroke-width="1.15" />
<path d="M835.6 355.3 L843.1 357.86 L833.9 384.73 L826.4 382.16Z" fill="#fff" stroke="none"/>
<line x1="835.6" y1="355.3" x2="843.1" y2="357.86" stroke="#000" stroke-width="1.2" />
<line x1="826.4" y1="382.16" x2="833.9" y2="384.73" stroke="#000" stroke-width="1.2" />
<ellipse cx="838.5" cy="371.3" rx="9.16" ry="14.2" transform="rotate(18.9 838.5 371.3)" fill="#fff" stroke="#000" stroke-width="1.3" />
<path d="M843.1 357.86 L842.29 360.55 L834.91 382.12 L833.9 384.73Z" fill="#fff" stroke="none"/>
<line x1="843.1" y1="357.86" x2="842.29" y2="360.55" stroke="#000" stroke-width="1.2" />
<line x1="833.9" y1="384.73" x2="834.91" y2="382.12" stroke="#000" stroke-width="1.2" />
<ellipse cx="838.6" cy="371.33" rx="7.35" ry="11.4" transform="rotate(18.9 838.6 371.33)" fill="#fff" stroke="#000" stroke-width="1.2" />
<path d="M842.29 360.55 L841.39 363.51 L836.01 379.22 L834.91 382.12Z" fill="#fff" stroke="none"/>
<line x1="842.29" y1="360.55" x2="841.39" y2="363.51" stroke="#000" stroke-width="1.2" />
<line x1="834.91" y1="382.12" x2="836.01" y2="379.22" stroke="#000" stroke-width="1.2" />
<ellipse cx="838.7" cy="371.37" rx="5.35" ry="8.3" transform="rotate(18.9 838.7 371.37)" fill="#000" stroke="#000" stroke-width="1.0" />
<path d="M841.39 363.51 L848.69 366.01 L843.31 381.72 L836.01 379.22Z" fill="#000" stroke="none"/>
<line x1="841.39" y1="363.51" x2="848.69" y2="366.01" stroke="#000" stroke-width="1.2" />
<line x1="836.01" y1="379.22" x2="843.31" y2="381.72" stroke="#000" stroke-width="1.2" />
<ellipse cx="846" cy="373.87" rx="5.35" ry="8.3" transform="rotate(18.9 846 373.87)" fill="#fff" stroke="#000" stroke-width="1.15" />
<path d="M848.69 366.01 L848.27 367.56 L843.93 380.24 L843.31 381.72Z" fill="#fff" stroke="none"/>
<line x1="848.69" y1="366.01" x2="848.27" y2="367.56" stroke="#000" stroke-width="1.2" />
<line x1="843.31" y1="381.72" x2="843.93" y2="380.24" stroke="#000" stroke-width="1.2" />
<ellipse cx="846.1" cy="373.9" rx="4.32" ry="6.7" transform="rotate(18.9 846.1 373.9)" fill="#fff" stroke="#000" stroke-width="1.15" />
<path d="M848.27 367.56 L853.17 369.24 L848.83 381.92 L843.93 380.24Z" fill="#fff" stroke="none"/>
<line x1="848.27" y1="367.56" x2="853.17" y2="369.24" stroke="#000" stroke-width="1.2" />
<line x1="843.93" y1="380.24" x2="848.83" y2="381.92" stroke="#000" stroke-width="1.2" />
<ellipse cx="851" cy="375.58" rx="4.32" ry="6.7" transform="rotate(18.9 851 375.58)" fill="#fff" stroke="#000" stroke-width="1.3" />
<line x1="853.5" y1="376.43" x2="899.5" y2="392.18" stroke="#000" stroke-width="1.05" />
<line x1="223.9" y1="279.8" x2="179.8" y2="395.4" stroke="#000" stroke-width="1.05" stroke-dasharray="43 5.5 8 5.5 200"/>
<line x1="895.2" y1="390.5" x2="849.4" y2="508.6" stroke="#000" stroke-width="1.05" stroke-dasharray="54 5 6 5 200"/>
<line x1="223.9" y1="279.8" x2="571.3" y2="406.87" stroke="#000" stroke-width="1.05" stroke-dasharray="72 4.5 7 4.5" stroke-dashoffset="24"/>
<line x1="580.3" y1="410.17" x2="849.4" y2="508.6" stroke="#000" stroke-width="1.05" stroke-dasharray="72 4.5 7 4.5" stroke-dashoffset="23"/>
<line x1="577.7" y1="394.7" x2="566.1" y2="423.5" stroke="#000" stroke-width="1.05" />
<line x1="584.1" y1="397.8" x2="572.6" y2="426" stroke="#000" stroke-width="1.05" />
<line x1="179.8" y1="395.4" x2="198" y2="401.63" stroke="#000" stroke-width="1.05" />
<ellipse cx="198" cy="401.63" rx="4.9" ry="7.6" transform="rotate(18.9 198 401.63)" fill="#000" stroke="#000" stroke-width="1.0" />
<path d="M200.46 394.44 L206.96 396.67 L202.04 411.05 L195.54 408.82Z" fill="#000" stroke="none"/>
<line x1="200.46" y1="394.44" x2="206.96" y2="396.67" stroke="#000" stroke-width="1.2" />
<line x1="195.54" y1="408.82" x2="202.04" y2="411.05" stroke="#000" stroke-width="1.2" />
<ellipse cx="204.5" cy="403.86" rx="4.9" ry="7.6" transform="rotate(18.9 204.5 403.86)" fill="#000" stroke="#000" stroke-width="1.0" />
<path d="M206.96 396.67 L208.46 397.18 L203.54 411.56 L202.04 411.05Z" fill="#000" stroke="none"/>
<line x1="206.96" y1="396.67" x2="208.46" y2="397.18" stroke="#000" stroke-width="1.2" />
<line x1="202.04" y1="411.05" x2="203.54" y2="411.56" stroke="#000" stroke-width="1.2" />
<ellipse cx="206" cy="404.37" rx="4.9" ry="7.6" transform="rotate(18.9 206 404.37)" fill="#fff" stroke="#000" stroke-width="1.0" />
<ellipse cx="213.3" cy="406.87" rx="13.16" ry="20.4" transform="rotate(18.9 213.3 406.87)" fill="#fff" stroke="#000" stroke-width="1.5" />
<path d="M219.91 387.57 L221.61 388.15 L208.39 426.75 L206.69 426.17Z" fill="#fff" stroke="none"/>
<line x1="219.91" y1="387.57" x2="221.61" y2="388.15" stroke="#000" stroke-width="1.2" />
<line x1="206.69" y1="426.17" x2="208.39" y2="426.75" stroke="#000" stroke-width="1.2" />
<ellipse cx="215" cy="407.45" rx="13.16" ry="20.4" transform="rotate(18.9 215 407.45)" fill="#fff" stroke="#000" stroke-width="1.3" />
<path d="M221.61 388.15 L219.64 394.88 L210.96 420.23 L208.39 426.75Z" fill="#fff" stroke="none"/>
<line x1="221.61" y1="388.15" x2="219.64" y2="394.88" stroke="#000" stroke-width="1.2" />
<line x1="208.39" y1="426.75" x2="210.96" y2="420.23" stroke="#000" stroke-width="1.2" />
<ellipse cx="215.3" cy="407.55" rx="8.64" ry="13.4" transform="rotate(18.9 215.3 407.55)" fill="#fff" stroke="#000" stroke-width="1.3" />
<path d="M219.64 394.88 L226.34 397.17 L217.66 422.53 L210.96 420.23Z" fill="#fff" stroke="none"/>
<line x1="219.64" y1="394.88" x2="226.34" y2="397.17" stroke="#000" stroke-width="1.2" />
<line x1="210.96" y1="420.23" x2="217.66" y2="422.53" stroke="#000" stroke-width="1.2" />
<ellipse cx="222" cy="409.85" rx="8.64" ry="13.4" transform="rotate(18.9 222 409.85)" fill="#fff" stroke="#000" stroke-width="1.5" />
<path d="M226.34 397.17 L226.15 398.37 L218.25 421.46 L217.66 422.53Z" fill="#fff" stroke="none"/>
<line x1="226.34" y1="397.17" x2="226.15" y2="398.37" stroke="#000" stroke-width="1.2" />
<line x1="217.66" y1="422.53" x2="218.25" y2="421.46" stroke="#000" stroke-width="1.2" />
<ellipse cx="222.2" cy="409.92" rx="7.87" ry="12.2" transform="rotate(18.9 222.2 409.92)" fill="#000" stroke="#000" stroke-width="1.0" />
<path d="M226.15 398.37 L229.45 399.5 L221.55 422.59 L218.25 421.46Z" fill="#000" stroke="none"/>
<line x1="226.15" y1="398.37" x2="229.45" y2="399.5" stroke="#000" stroke-width="1.2" />
<line x1="218.25" y1="421.46" x2="221.55" y2="422.59" stroke="#000" stroke-width="1.2" />
<ellipse cx="225.5" cy="411.05" rx="7.87" ry="12.2" transform="rotate(18.9 225.5 411.05)" fill="#fff" stroke="#000" stroke-width="1.2" />
<path d="M229.45 399.5 L230.73 397.4 L221.27 425.03 L221.55 422.59Z" fill="#fff" stroke="none"/>
<line x1="229.45" y1="399.5" x2="230.73" y2="397.4" stroke="#000" stroke-width="1.2" />
<line x1="221.55" y1="422.59" x2="221.27" y2="425.03" stroke="#000" stroke-width="1.2" />
<ellipse cx="226" cy="411.22" rx="9.42" ry="14.6" transform="rotate(18.9 226 411.22)" fill="#fff" stroke="#000" stroke-width="1.4" />
<path d="M230.73 397.4 L235.23 398.95 L225.77 426.57 L221.27 425.03Z" fill="#fff" stroke="none"/>
<line x1="230.73" y1="397.4" x2="235.23" y2="398.95" stroke="#000" stroke-width="1.2" />
<line x1="221.27" y1="425.03" x2="225.77" y2="426.57" stroke="#000" stroke-width="1.2" />
<ellipse cx="230.5" cy="412.76" rx="9.42" ry="14.6" transform="rotate(18.9 230.5 412.76)" fill="#fff" stroke="#000" stroke-width="1.4" />
<path d="M235.23 398.95 L235.21 400.63 L226.79 425.23 L225.77 426.57Z" fill="#fff" stroke="none"/>
<line x1="235.23" y1="398.95" x2="235.21" y2="400.63" stroke="#000" stroke-width="1.2" />
<line x1="225.77" y1="426.57" x2="226.79" y2="425.23" stroke="#000" stroke-width="1.2" />
<ellipse cx="231" cy="412.93" rx="8.38" ry="13" transform="rotate(18.9 231 412.93)" fill="#000" stroke="#000" stroke-width="1.0" />
<path d="M235.21 400.63 L237.71 401.49 L229.29 426.08 L226.79 425.23Z" fill="#000" stroke="none"/>
<line x1="235.21" y1="400.63" x2="237.71" y2="401.49" stroke="#000" stroke-width="1.2" />
<line x1="226.79" y1="425.23" x2="229.29" y2="426.08" stroke="#000" stroke-width="1.2" />
<ellipse cx="233.5" cy="413.79" rx="8.38" ry="13" transform="rotate(18.9 233.5 413.79)" fill="#fff" stroke="#000" stroke-width="1.2" />
<path d="M237.71 401.49 L238.53 400.71 L229.47 427.2 L229.29 426.08Z" fill="#fff" stroke="none"/>
<line x1="237.71" y1="401.49" x2="238.53" y2="400.71" stroke="#000" stroke-width="1.2" />
<line x1="229.29" y1="426.08" x2="229.47" y2="427.2" stroke="#000" stroke-width="1.2" />
<ellipse cx="234" cy="413.96" rx="9.03" ry="14" transform="rotate(18.9 234 413.96)" fill="#fff" stroke="#000" stroke-width="1.3" />
<path d="M238.53 400.71 L241.91 402.29 L233.09 428.02 L229.47 427.2Z" fill="#fff" stroke="none"/>
<line x1="238.53" y1="400.71" x2="241.91" y2="402.29" stroke="#000" stroke-width="1.2" />
<line x1="229.47" y1="427.2" x2="233.09" y2="428.02" stroke="#000" stroke-width="1.2" />
<ellipse cx="237.5" cy="415.16" rx="8.77" ry="13.6" transform="rotate(18.9 237.5 415.16)" fill="#fff" stroke="#000" stroke-width="1.3" />
<path d="M241.91 402.29 L243.13 405.24 L235.87 426.44 L233.09 428.02Z" fill="#fff" stroke="none"/>
<line x1="241.91" y1="402.29" x2="243.13" y2="405.24" stroke="#000" stroke-width="1.2" />
<line x1="233.09" y1="428.02" x2="235.87" y2="426.44" stroke="#000" stroke-width="1.2" />
<ellipse cx="239.5" cy="415.84" rx="7.22" ry="11.2" transform="rotate(18.9 239.5 415.84)" fill="#fff" stroke="#000" stroke-width="1.2" />
<path d="M243.13 405.24 L246.56 406.63 L239.44 427.45 L235.87 426.44Z" fill="#fff" stroke="none"/>
<line x1="243.13" y1="405.24" x2="246.56" y2="406.63" stroke="#000" stroke-width="1.2" />
<line x1="235.87" y1="426.44" x2="239.44" y2="427.45" stroke="#000" stroke-width="1.2" />
<ellipse cx="243" cy="417.04" rx="7.1" ry="11" transform="rotate(18.9 243 417.04)" fill="#fff" stroke="#000" stroke-width="1.2" />
<path d="M246.56 406.63 L247.22 409.6 L241.78 425.5 L239.44 427.45Z" fill="#fff" stroke="none"/>
<line x1="246.56" y1="406.63" x2="247.22" y2="409.6" stroke="#000" stroke-width="1.2" />
<line x1="239.44" y1="427.45" x2="241.78" y2="425.5" stroke="#000" stroke-width="1.2" />
<ellipse cx="244.5" cy="417.55" rx="5.42" ry="8.4" transform="rotate(18.9 244.5 417.55)" fill="#fff" stroke="#000" stroke-width="1.1" />
<path d="M247.22 409.6 L249.61 409.15 L243.39 427.32 L241.78 425.5Z" fill="#fff" stroke="none"/>
<line x1="247.22" y1="409.6" x2="249.61" y2="409.15" stroke="#000" stroke-width="1.2" />
<line x1="241.78" y1="425.5" x2="243.39" y2="427.32" stroke="#000" stroke-width="1.2" />
<ellipse cx="246.5" cy="418.24" rx="6.19" ry="9.6" transform="rotate(18.9 246.5 418.24)" fill="#fff" stroke="#000" stroke-width="1.3" />
<path d="M249.61 409.15 L253.61 410.52 L247.39 428.69 L243.39 427.32Z" fill="#fff" stroke="none"/>
<line x1="249.61" y1="409.15" x2="253.61" y2="410.52" stroke="#000" stroke-width="1.2" />
<line x1="243.39" y1="427.32" x2="247.39" y2="428.69" stroke="#000" stroke-width="1.2" />
<ellipse cx="250.5" cy="419.61" rx="6.19" ry="9.6" transform="rotate(18.9 250.5 419.61)" fill="#fff" stroke="#000" stroke-width="1.4" />
<path d="M253.61 410.52 L252.81 414.48 L249.19 425.08 L247.39 428.69Z" fill="#fff" stroke="none"/>
<line x1="253.61" y1="410.52" x2="252.81" y2="414.48" stroke="#000" stroke-width="1.2" />
<line x1="247.39" y1="428.69" x2="249.19" y2="425.08" stroke="#000" stroke-width="1.2" />
<ellipse cx="251" cy="419.78" rx="3.61" ry="5.6" transform="rotate(18.9 251 419.78)" fill="#000" stroke="#000" stroke-width="1.2" />
<path d="M252.81 414.48 L256.81 415.85 L253.19 426.44 L249.19 425.08Z" fill="#000" stroke="none"/>
<line x1="252.81" y1="414.48" x2="256.81" y2="415.85" stroke="#000" stroke-width="1.2" />
<line x1="249.19" y1="425.08" x2="253.19" y2="426.44" stroke="#000" stroke-width="1.2" />
<ellipse cx="255" cy="421.15" rx="3.61" ry="5.6" transform="rotate(18.9 255 421.15)" fill="#fff" stroke="#000" stroke-width="1.4" />
<ellipse cx="255" cy="421.15" rx="2.71" ry="4.2" transform="rotate(18.9 255 421.15)" fill="#fff" stroke="none" stroke-width="0.01" />
<path d="M256.36 417.17 L288.36 428.13 L285.64 436.08 L253.64 425.12Z" fill="#fff" stroke="none"/>
<line x1="256.36" y1="417.17" x2="288.36" y2="428.13" stroke="#000" stroke-width="1.2" />
<line x1="253.64" y1="425.12" x2="285.64" y2="436.08" stroke="#000" stroke-width="1.2" />
<ellipse cx="287" cy="432.1" rx="2.71" ry="4.2" transform="rotate(18.9 287 432.1)" fill="#fff" stroke="none" stroke-width="0.01" />
<ellipse cx="285.5" cy="431.59" rx="3.61" ry="5.6" transform="rotate(18.9 285.5 431.59)" fill="#000" stroke="#000" stroke-width="1.2" />
<path d="M287.31 426.29 L292.31 428 L288.69 438.6 L283.69 436.89Z" fill="#000" stroke="none"/>
<line x1="287.31" y1="426.29" x2="292.31" y2="428" stroke="#000" stroke-width="1.2" />
<line x1="283.69" y1="436.89" x2="288.69" y2="438.6" stroke="#000" stroke-width="1.2" />
<ellipse cx="290.5" cy="433.3" rx="3.61" ry="5.6" transform="rotate(18.9 290.5 433.3)" fill="#fff" stroke="#000" stroke-width="1.2" />
<path d="M292.31 428 L293.43 426.38 L288.57 440.57 L288.69 438.6Z" fill="#fff" stroke="none"/>
<line x1="292.31" y1="428" x2="293.43" y2="426.38" stroke="#000" stroke-width="1.2" />
<line x1="288.69" y1="438.6" x2="288.57" y2="440.57" stroke="#000" stroke-width="1.2" />
<ellipse cx="291" cy="433.47" rx="4.84" ry="7.5" transform="rotate(18.9 291 433.47)" fill="#fff" stroke="#000" stroke-width="1.2" />
<path d="M293.43 426.38 L297.56 424.09 L290.44 444.91 L288.57 440.57Z" fill="#fff" stroke="none"/>
<line x1="293.43" y1="426.38" x2="297.56" y2="424.09" stroke="#000" stroke-width="1.2" />
<line x1="288.57" y1="440.57" x2="290.44" y2="444.91" stroke="#000" stroke-width="1.2" />
<ellipse cx="294" cy="434.5" rx="7.1" ry="11" transform="rotate(18.9 294 434.5)" fill="#fff" stroke="none" stroke-width="0.01" />
<path d="M297.56 424.09 L302.87 423.27 L294.13 448.81 L290.44 444.91Z" fill="#fff" stroke="none"/>
<line x1="297.56" y1="424.09" x2="302.87" y2="423.27" stroke="#000" stroke-width="1.2" />
<line x1="290.44" y1="444.91" x2="294.13" y2="448.81" stroke="#000" stroke-width="1.2" />
<ellipse cx="298.5" cy="436.04" rx="8.71" ry="13.5" transform="rotate(18.9 298.5 436.04)" fill="#fff" stroke="#000" stroke-width="1.2" />
<path d="M302.87 423.27 L307.7 423.86 L298.3 451.3 L294.13 448.81Z" fill="#fff" stroke="none"/>
<line x1="302.87" y1="423.27" x2="307.7" y2="423.86" stroke="#000" stroke-width="1.2" />
<line x1="294.13" y1="448.81" x2="298.3" y2="451.3" stroke="#000" stroke-width="1.2" />
<ellipse cx="303" cy="437.58" rx="9.35" ry="14.5" transform="rotate(18.9 303 437.58)" fill="#fff" stroke="none" stroke-width="0.01" />
<path d="M307.7 423.86 L311.29 424.78 L301.71 452.78 L298.3 451.3Z" fill="#fff" stroke="none"/>
<line x1="307.7" y1="423.86" x2="311.29" y2="424.78" stroke="#000" stroke-width="1.2" />
<line x1="298.3" y1="451.3" x2="301.71" y2="452.78" stroke="#000" stroke-width="1.2" />
<ellipse cx="306.5" cy="438.78" rx="9.55" ry="14.8" transform="rotate(18.9 306.5 438.78)" fill="#000" stroke="#000" stroke-width="1.6" />
<path d="M311.29 424.78 L314.29 425.8 L304.71 453.81 L301.71 452.78Z" fill="#000" stroke="none"/>
<line x1="311.29" y1="424.78" x2="314.29" y2="425.8" stroke="#000" stroke-width="1.2" />
<line x1="301.71" y1="452.78" x2="304.71" y2="453.81" stroke="#000" stroke-width="1.2" />
<ellipse cx="309.5" cy="439.81" rx="9.55" ry="14.8" transform="rotate(18.9 309.5 439.81)" fill="#fff" stroke="#000" stroke-width="1.6" />
<path d="M314.29 425.8 L315.79 426.32 L306.21 454.32 L304.71 453.81Z" fill="#fff" stroke="none"/>
<line x1="314.29" y1="425.8" x2="315.79" y2="426.32" stroke="#000" stroke-width="1.2" />
<line x1="304.71" y1="453.81" x2="306.21" y2="454.32" stroke="#000" stroke-width="1.2" />
<ellipse cx="311" cy="440.32" rx="9.55" ry="14.8" transform="rotate(18.9 311 440.32)" fill="#fff" stroke="#000" stroke-width="1.3" />
<path d="M315.79 426.32 L319.7 427.97 L310.3 455.41 L306.21 454.32Z" fill="#fff" stroke="none"/>
<line x1="315.79" y1="426.32" x2="319.7" y2="427.97" stroke="#000" stroke-width="1.2" />
<line x1="306.21" y1="454.32" x2="310.3" y2="455.41" stroke="#000" stroke-width="1.2" />
<ellipse cx="315" cy="441.69" rx="9.35" ry="14.5" transform="rotate(18.9 315 441.69)" fill="#fff" stroke="none" stroke-width="0.01" />
<path d="M319.7 427.97 L322.28 430.23 L313.72 455.2 L310.3 455.41Z" fill="#fff" stroke="none"/>
<line x1="319.7" y1="427.97" x2="322.28" y2="430.23" stroke="#000" stroke-width="1.2" />
<line x1="310.3" y1="455.41" x2="313.72" y2="455.2" stroke="#000" stroke-width="1.2" />
<ellipse cx="318" cy="442.72" rx="8.51" ry="13.2" transform="rotate(18.9 318 442.72)" fill="#fff" stroke="none" stroke-width="0.01" />
<path d="M322.28 430.23 L323.1 433.05 L316.1 453.48 L313.72 455.2Z" fill="#fff" stroke="none"/>
<line x1="322.28" y1="430.23" x2="323.1" y2="433.05" stroke="#000" stroke-width="1.2" />
<line x1="313.72" y1="455.2" x2="316.1" y2="453.48" stroke="#000" stroke-width="1.2" />
<ellipse cx="319.6" cy="443.26" rx="6.97" ry="10.8" transform="rotate(18.9 319.6 443.26)" fill="#fff" stroke="none" stroke-width="0.01" />
<path d="M323.1 433.05 L322.59 435.83 L317.41 450.97 L316.1 453.48Z" fill="#fff" stroke="none"/>
<line x1="323.1" y1="433.05" x2="322.59" y2="435.83" stroke="#000" stroke-width="1.2" />
<line x1="316.1" y1="453.48" x2="317.41" y2="450.97" stroke="#000" stroke-width="1.2" />
<ellipse cx="320" cy="443.4" rx="5.16" ry="8" transform="rotate(18.9 320 443.4)" fill="#fff" stroke="#000" stroke-width="1.5" />
<path d="M322.59 435.83 L322.27 437.41 L318.13 449.52 L317.41 450.97Z" fill="#fff" stroke="none"/>
<line x1="322.59" y1="435.83" x2="322.27" y2="437.41" stroke="#000" stroke-width="1.2" />
<line x1="317.41" y1="450.97" x2="318.13" y2="449.52" stroke="#000" stroke-width="1.2" />
<ellipse cx="320.2" cy="443.47" rx="4.13" ry="6.4" transform="rotate(18.9 320.2 443.47)" fill="#fff" stroke="#000" stroke-width="1.2" />
<ellipse cx="320.2" cy="443.47" rx="2.9" ry="4.5" transform="rotate(18.9 320.2 443.47)" fill="#fff" stroke="none" stroke-width="0.01" />
<path d="M321.66 439.21 L327.66 441.27 L324.74 449.78 L318.74 447.73Z" fill="#fff" stroke="none"/>
<line x1="321.66" y1="439.21" x2="327.66" y2="441.27" stroke="#000" stroke-width="1.2" />
<line x1="318.74" y1="447.73" x2="324.74" y2="449.78" stroke="#000" stroke-width="1.2" />
<ellipse cx="326.2" cy="445.52" rx="2.9" ry="4.5" transform="rotate(18.9 326.2 445.52)" fill="#000" stroke="none" stroke-width="0.01" />
<path d="M327.66 441.27 L341.46 445.99 L338.54 454.51 L324.74 449.78Z" fill="#000" stroke="none"/>
<line x1="327.66" y1="441.27" x2="341.46" y2="445.99" stroke="#000" stroke-width="1.2" />
<line x1="324.74" y1="449.78" x2="338.54" y2="454.51" stroke="#000" stroke-width="1.2" />
<ellipse cx="340" cy="450.25" rx="2.9" ry="4.5" transform="rotate(18.9 340 450.25)" fill="#fff" stroke="none" stroke-width="0.01" />
<path d="M341.46 445.99 L345.96 447.53 L343.04 456.05 L338.54 454.51Z" fill="#fff" stroke="none"/>
<line x1="341.46" y1="445.99" x2="345.96" y2="447.53" stroke="#000" stroke-width="1.2" />
<line x1="338.54" y1="454.51" x2="343.04" y2="456.05" stroke="#000" stroke-width="1.2" />
<ellipse cx="344.5" cy="451.79" rx="2.9" ry="4.5" transform="rotate(18.9 344.5 451.79)" fill="#fff" stroke="#000" stroke-width="1.1" />
<path d="M345.96 447.53 L347.66 448.11 L344.74 456.63 L343.04 456.05Z" fill="#fff" stroke="none"/>
<line x1="345.96" y1="447.53" x2="347.66" y2="448.11" stroke="#000" stroke-width="1.2" />
<line x1="343.04" y1="456.05" x2="344.74" y2="456.63" stroke="#000" stroke-width="1.2" />
<ellipse cx="346.2" cy="452.37" rx="2.9" ry="4.5" transform="rotate(18.9 346.2 452.37)" fill="#fff" stroke="#000" stroke-width="1.1" />
<path d="M347.66 448.11 L347.86 448.82 L345.34 456.2 L344.74 456.63Z" fill="#fff" stroke="none"/>
<line x1="347.66" y1="448.11" x2="347.86" y2="448.82" stroke="#000" stroke-width="1.2" />
<line x1="344.74" y1="456.63" x2="345.34" y2="456.2" stroke="#000" stroke-width="1.2" />
<ellipse cx="346.6" cy="452.51" rx="2.52" ry="3.9" transform="rotate(18.9 346.6 452.51)" fill="#fff" stroke="none" stroke-width="0.01" />
<path d="M347.86 448.82 L352.06 450.26 L349.54 457.64 L345.34 456.2Z" fill="#fff" stroke="none"/>
<line x1="347.86" y1="448.82" x2="352.06" y2="450.26" stroke="#000" stroke-width="1.2" />
<line x1="345.34" y1="456.2" x2="349.54" y2="457.64" stroke="#000" stroke-width="1.2" />
<ellipse cx="350.8" cy="453.95" rx="2.52" ry="3.9" transform="rotate(18.9 350.8 453.95)" fill="#fff" stroke="#000" stroke-width="1.2" />
<line x1="353" y1="454.7" x2="400" y2="470.79" stroke="#000" stroke-width="1.05" />
<line x1="400.2" y1="454.27" x2="412" y2="458.31" stroke="#000" stroke-width="1.05" />
<line x1="387.4" y1="460.56" x2="404" y2="466.24" stroke="#000" stroke-width="1.05" />
<line x1="393.8" y1="474.59" x2="401" y2="477.05" stroke="#000" stroke-width="1.05" />
<line x1="381.3" y1="480.98" x2="400" y2="487.39" stroke="#000" stroke-width="1.05" />
<line x1="394.09" y1="452.17" x2="399.3" y2="453.96" stroke="#000" stroke-width="4.2"/>
<line x1="394.09" y1="452.17" x2="398.54" y2="453.7" stroke="#fff" stroke-width="1.9"/>
<ellipse cx="392.2" cy="451.53" rx="2.9" ry="3.6" transform="rotate(18.9 392.2 451.53)" fill="#000"/>
<line x1="381.29" y1="458.47" x2="386.5" y2="460.25" stroke="#000" stroke-width="4.2"/>
<line x1="381.29" y1="458.47" x2="385.74" y2="459.99" stroke="#fff" stroke-width="1.9"/>
<ellipse cx="379.4" cy="457.82" rx="2.9" ry="3.6" transform="rotate(18.9 379.4 457.82)" fill="#000"/>
<line x1="387.69" y1="472.5" x2="392.9" y2="474.28" stroke="#000" stroke-width="4.2"/>
<line x1="387.69" y1="472.5" x2="392.14" y2="474.02" stroke="#fff" stroke-width="1.9"/>
<ellipse cx="385.8" cy="471.85" rx="2.9" ry="3.6" transform="rotate(18.9 385.8 471.85)" fill="#000"/>
<line x1="375.19" y1="478.89" x2="380.4" y2="480.67" stroke="#000" stroke-width="4.2"/>
<line x1="375.19" y1="478.89" x2="379.64" y2="480.41" stroke="#fff" stroke-width="1.9"/>
<ellipse cx="373.3" cy="478.24" rx="2.9" ry="3.6" transform="rotate(18.9 373.3 478.24)" fill="#000"/>
<line x1="455" y1="470.28" x2="467.2" y2="474.46" stroke="#000" stroke-width="1.05" />
<line x1="452" y1="479.15" x2="473.6" y2="486.54" stroke="#000" stroke-width="1.05" />
<line x1="449" y1="497.02" x2="462.2" y2="501.54" stroke="#000" stroke-width="1.05" />
<line x1="441" y1="504.17" x2="468.1" y2="513.45" stroke="#000" stroke-width="1.05" />
<line x1="455" y1="489.62" x2="468" y2="494.07" stroke="#000" stroke-width="1.05" />
<line x1="472" y1="495.44" x2="486" y2="500.24" stroke="#000" stroke-width="1.05" />
<ellipse cx="424.72" cy="479.26" rx="26.45" ry="41" transform="rotate(18.9 424.72 479.26)" fill="#fff" stroke="#000" stroke-width="1.4" />
<ellipse cx="426.9" cy="480" rx="26.45" ry="41" transform="rotate(18.9 426.9 480)" fill="#fff" stroke="#000" stroke-width="1.7" />
<ellipse cx="426.9" cy="480" rx="14.58" ry="22.6" transform="rotate(18.9 426.9 480)" fill="#fff" stroke="#000" stroke-width="3.0" />
<line x1="418.41" y1="500.89" x2="420.81" y2="501.71" stroke="#fff" stroke-width="1.1"/>
<line x1="426.09" y1="501.37" x2="428.81" y2="500.22" stroke="#fff" stroke-width="1.1"/>
<line x1="434" y1="496.13" x2="436.31" y2="493.32" stroke="#fff" stroke-width="1.1"/>
<line x1="440" y1="486.57" x2="441.28" y2="482.84" stroke="#fff" stroke-width="1.1"/>
<line x1="442.49" y1="475.24" x2="442.4" y2="471.61" stroke="#fff" stroke-width="1.1"/>
<line x1="440.81" y1="465.19" x2="439.36" y2="462.62" stroke="#fff" stroke-width="1.1"/>
<line x1="435.39" y1="459.11" x2="432.99" y2="458.29" stroke="#fff" stroke-width="1.1"/>
<line x1="427.71" y1="458.63" x2="424.99" y2="459.78" stroke="#fff" stroke-width="1.1"/>
<line x1="419.8" y1="463.87" x2="417.49" y2="466.69" stroke="#fff" stroke-width="1.1"/>
<line x1="413.8" y1="473.43" x2="412.52" y2="477.16" stroke="#fff" stroke-width="1.1"/>
<line x1="411.31" y1="484.76" x2="411.4" y2="488.4" stroke="#fff" stroke-width="1.1"/>
<line x1="412.99" y1="494.81" x2="414.44" y2="497.38" stroke="#fff" stroke-width="1.1"/>
<ellipse cx="426.9" cy="480" rx="8.77" ry="13.6" transform="rotate(18.9 426.9 480)" fill="none" stroke="#000" stroke-width="1.9" />
<clipPath id="dcl"><ellipse cx="426.9" cy="480" rx="13.29" ry="20.6" transform="rotate(18.9 426.9 480)"/></clipPath>
<g clip-path="url(#dcl)">
<line x1="395" y1="452.48" x2="460" y2="474.74" stroke="#000" stroke-width="1.0" />
<line x1="395" y1="463.16" x2="460" y2="485.41" stroke="#000" stroke-width="1.0" />
<line x1="395" y1="475" x2="460" y2="497.25" stroke="#000" stroke-width="1.0" />
<line x1="395" y1="485.67" x2="460" y2="507.93" stroke="#000" stroke-width="1.0" />
<line x1="395" y1="469.08" x2="460" y2="491.33" stroke="#000" stroke-width="1.0" />
<ellipse cx="434.1" cy="490.19" rx="2.6" ry="3.0" transform="rotate(18.9 434.1 490.19)" fill="#000"/>
<ellipse cx="436.44" cy="466.69" rx="2.6" ry="3.0" transform="rotate(18.9 436.44 466.69)" fill="#000"/>
<ellipse cx="419.7" cy="469.81" rx="2.6" ry="3.0" transform="rotate(18.9 419.7 469.81)" fill="#000"/>
<ellipse cx="417.36" cy="493.31" rx="2.6" ry="3.0" transform="rotate(18.9 417.36 493.31)" fill="#000"/>
</g>
<line x1="479.2" y1="478.56" x2="505" y2="487.4" stroke="#000" stroke-width="1.05" />
<line x1="485.6" y1="490.65" x2="519" y2="502.08" stroke="#000" stroke-width="1.05" />
<line x1="474.2" y1="505.65" x2="489" y2="510.71" stroke="#000" stroke-width="1.05" />
<line x1="480.1" y1="517.56" x2="503" y2="525.4" stroke="#000" stroke-width="1.05" />
<line x1="472.57" y1="476.29" x2="478.24" y2="478.24" stroke="#000" stroke-width="4.4"/>
<line x1="472.57" y1="476.29" x2="477.39" y2="477.95" stroke="#fff" stroke-width="2.2"/>
<line x1="472.85" y1="476.39" x2="469.06" y2="475.09" stroke="#000" stroke-width="4.6" stroke-linecap="round"/>
<line x1="478.97" y1="488.38" x2="484.64" y2="490.32" stroke="#000" stroke-width="4.4"/>
<line x1="478.97" y1="488.38" x2="483.79" y2="490.03" stroke="#fff" stroke-width="2.2"/>
<line x1="479.25" y1="488.47" x2="475.46" y2="487.18" stroke="#000" stroke-width="4.6" stroke-linecap="round"/>
<line x1="467.57" y1="503.37" x2="473.24" y2="505.32" stroke="#000" stroke-width="4.4"/>
<line x1="467.57" y1="503.37" x2="472.39" y2="505.03" stroke="#fff" stroke-width="2.2"/>
<line x1="467.85" y1="503.47" x2="464.06" y2="502.18" stroke="#000" stroke-width="4.6" stroke-linecap="round"/>
<line x1="473.47" y1="515.29" x2="479.14" y2="517.23" stroke="#000" stroke-width="4.4"/>
<line x1="473.47" y1="515.29" x2="478.29" y2="516.94" stroke="#fff" stroke-width="2.2"/>
<line x1="473.75" y1="515.38" x2="469.96" y2="514.09" stroke="#000" stroke-width="4.6" stroke-linecap="round"/>
<ellipse cx="487.2" cy="494.94" rx="1.1" ry="1.6" transform="rotate(18.9 487.2 494.94)" fill="#fff" stroke="#000" stroke-width="1.2" />
<path d="M487.72 493.43 L489.44 492.96 L487.76 497.88 L486.68 496.45Z" fill="#fff" stroke="none"/>
<line x1="487.72" y1="493.43" x2="489.44" y2="492.96" stroke="#000" stroke-width="1.3" />
<line x1="486.68" y1="496.45" x2="487.76" y2="497.88" stroke="#000" stroke-width="1.3" />
<ellipse cx="488.6" cy="495.42" rx="1.79" ry="2.6" transform="rotate(18.9 488.6 495.42)" fill="#fff" stroke="none" stroke-width="0.01" />
<path d="M489.44 492.96 L499.84 496.52 L498.16 501.44 L487.76 497.88Z" fill="#fff" stroke="none"/>
<line x1="489.44" y1="492.96" x2="499.84" y2="496.52" stroke="#000" stroke-width="1.3" />
<line x1="487.76" y1="497.88" x2="498.16" y2="501.44" stroke="#000" stroke-width="1.3" />
<ellipse cx="499" cy="498.98" rx="1.79" ry="2.6" transform="rotate(18.9 499 498.98)" fill="#fff" stroke="none" stroke-width="0.01" />
<path d="M495.5 528.67 L496.48 530.51 L497.69 532.23 L499.16 533.56 L500.85 534.3 L502.7 534.3 L504.57 533.51 L506.35 532.02 L507.93 529.98 L509.26 527.61 L510.34 525.16 L511.24 522.82 L512.05 520.73 L512.87 518.92 L513.78 517.34 L514.75 515.85 L515.88 514.43 L517.22 513 L518.77 511.45 L520.42 509.68 L522.02 507.63 L523.38 505.31 L524.35 502.82 L524.77 500.29 L524.61 497.91 L523.87 495.82 L522.67 494.13 L521.16 492.86 L519.52 491.94 L517.93 491.26 L516.51 490.64 L515.31 489.93 L514.3 489.06 L513.38 488.08 L512.55 486.86 L511.76 485.35 L510.93 483.6 L509.95 481.75 L508.75 480.04 L507.28 478.7 L505.58 477.96 L503.74 477.97 L501.87 478.75 L500.09 480.24 L498.51 482.29 L497.18 484.65 L496.09 487.1 L495.19 489.44 L494.38 491.53 L493.56 493.34 L492.66 494.92 L491.69 496.41 L490.56 497.84 L489.22 499.26 L487.67 500.81 L486.02 502.58 L484.42 504.63 L483.05 506.95 L482.09 509.44 L481.66 511.97 L481.83 514.35 L482.57 516.44 L483.77 518.13 L485.28 519.4 L486.92 520.32 L488.51 521 L489.93 521.63 L491.13 522.33 L492.14 523.2 L493.06 524.19 L493.89 525.4 L494.67 526.91Z" fill="#fff" stroke="#000" stroke-width="1.3" stroke-linejoin="round"/>
<path d="M497.58 529.38 L498.56 531.22 L499.77 532.94 L501.24 534.27 L502.93 535.01 L504.78 535.01 L506.65 534.23 L508.43 532.73 L510.01 530.69 L511.34 528.32 L512.43 525.87 L513.32 523.53 L514.13 521.44 L514.96 519.63 L515.86 518.05 L516.83 516.56 L517.96 515.14 L519.3 513.71 L520.85 512.17 L522.5 510.4 L524.1 508.34 L525.47 506.03 L526.43 503.53 L526.86 501.01 L526.69 498.62 L525.95 496.54 L524.75 494.85 L523.24 493.57 L521.6 492.66 L520.01 491.97 L518.59 491.35 L517.39 490.64 L516.38 489.78 L515.46 488.79 L514.63 487.58 L513.84 486.07 L513.02 484.31 L512.04 482.46 L510.83 480.75 L509.36 479.42 L507.67 478.68 L505.82 478.68 L503.95 479.46 L502.17 480.96 L500.59 483 L499.26 485.36 L498.17 487.82 L497.28 490.15 L496.47 492.25 L495.64 494.05 L494.74 495.64 L493.77 497.13 L492.64 498.55 L491.3 499.98 L489.75 501.52 L488.1 503.29 L486.5 505.34 L485.13 507.66 L484.17 510.16 L483.74 512.68 L483.91 515.06 L484.65 517.15 L485.85 518.84 L487.36 520.11 L489 521.03 L490.59 521.72 L492.01 522.34 L493.21 523.04 L494.22 523.91 L495.14 524.9 L495.97 526.11 L496.76 527.62Z" fill="#fff" stroke="#000" stroke-width="1.5" stroke-linejoin="round"/>
<ellipse cx="505.2" cy="526.19" rx="2.13" ry="2.7" transform="rotate(18.9 505.2 526.19)" fill="#fff" stroke="#000" stroke-width="1.2" />
<ellipse cx="520.17" cy="502.48" rx="2.13" ry="2.7" transform="rotate(18.9 520.17 502.48)" fill="#fff" stroke="#000" stroke-width="1.2" />
<ellipse cx="505.4" cy="487.5" rx="2.13" ry="2.7" transform="rotate(18.9 505.4 487.5)" fill="#fff" stroke="#000" stroke-width="1.2" />
<ellipse cx="490.43" cy="511.21" rx="2.13" ry="2.7" transform="rotate(18.9 490.43 511.21)" fill="#fff" stroke="#000" stroke-width="1.2" />
<ellipse cx="505.77" cy="507.01" rx="8.28" ry="12" transform="rotate(18.9 505.77 507.01)" fill="#fff" stroke="#000" stroke-width="2.6" />
<ellipse cx="506.44" cy="507.23" rx="5.93" ry="8.6" transform="rotate(18.9 506.44 507.23)" fill="#fff" stroke="#000" stroke-width="2.2" />
<ellipse cx="507" cy="507.43" rx="3.86" ry="5.6" transform="rotate(18.9 507 507.43)" fill="#fff" stroke="#000" stroke-width="1.8" />
<ellipse cx="507.38" cy="507.56" rx="1.93" ry="2.8" transform="rotate(18.9 507.38 507.56)" fill="#fff" stroke="#000" stroke-width="1.1" />
<line x1="512" y1="489.79" x2="538" y2="498.7" stroke="#000" stroke-width="1.05" />
<line x1="526" y1="504.48" x2="531" y2="506.19" stroke="#000" stroke-width="1.05" />
<line x1="518" y1="520.64" x2="528" y2="524.06" stroke="#000" stroke-width="1.05" />
<line x1="508" y1="527.11" x2="530" y2="534.64" stroke="#000" stroke-width="1.05" />
<line x1="517" y1="510.85" x2="527" y2="514.27" stroke="#000" stroke-width="1.05" />
<ellipse cx="572.28" cy="530.2" rx="44.64" ry="64.7" transform="rotate(18.9 572.28 530.2)" fill="#fff" stroke="#000" stroke-width="1.6" />
<ellipse cx="575.88" cy="531.43" rx="41.26" ry="59.8" transform="rotate(18.9 575.88 531.43)" fill="none" stroke="#000" stroke-width="1.25" />
<ellipse cx="577.86" cy="532.11" rx="40.5" ry="58.7" transform="rotate(18.9 577.86 532.11)" fill="none" stroke="#000" stroke-width="1.25" />
<ellipse cx="581.17" cy="533.24" rx="39.33" ry="57" transform="rotate(18.9 581.17 533.24)" fill="none" stroke="#000" stroke-width="2.3" />
<ellipse cx="585.62" cy="534.77" rx="36.5" ry="52.9" transform="rotate(18.9 585.62 534.77)" fill="none" stroke="#000" stroke-width="1.35" />
<ellipse cx="596.12" cy="538.36" rx="35.12" ry="50.9" transform="rotate(18.9 596.12 538.36)" fill="none" stroke="#000" stroke-width="1.35" />
<ellipse cx="612.3" cy="543.9" rx="43.4" ry="62.9" transform="rotate(18.9 612.3 543.9)" fill="#fff" stroke="#000" stroke-width="1.95" />
<ellipse cx="610.88" cy="543.41" rx="41.12" ry="59.6" transform="rotate(18.9 610.88 543.41)" fill="none" stroke="#000" stroke-width="1.3" />
<clipPath id="riml"><ellipse cx="610.88" cy="543.41" rx="41.12" ry="59.6" transform="rotate(18.9 610.88 543.41)"/></clipPath>
<g clip-path="url(#riml)">
<ellipse cx="612.77" cy="544.06" rx="38.98" ry="56.5" transform="rotate(18.9 612.77 544.06)" fill="none" stroke="#000" stroke-width="1.25" />
<ellipse cx="604.07" cy="541.08" rx="39.67" ry="57.5" transform="rotate(18.9 604.07 541.08)" fill="none" stroke="#000" stroke-width="1.2" />
<ellipse cx="600.76" cy="539.95" rx="39.33" ry="57" transform="rotate(18.9 600.76 539.95)" fill="none" stroke="#000" stroke-width="1.2" />
<ellipse cx="595.84" cy="538.26" rx="37.95" ry="55" transform="rotate(18.9 595.84 538.26)" fill="none" stroke="#000" stroke-width="1.3" />
<ellipse cx="591.96" cy="536.94" rx="35.53" ry="51.5" transform="rotate(18.9 591.96 536.94)" fill="none" stroke="#000" stroke-width="2.4" />
<path d="M599.75 498.07 L599.01 498.42 L598.3 498.96 L597.67 499.68 L597.15 500.54 L596.75 501.49 L596.51 502.48 L596.44 503.48 L596.53 504.42 L596.78 505.26 L597.19 505.95 L597.73 506.47 L598.37 506.79 L599.08 506.89 L599.82 506.76 L600.57 506.42 L601.28 505.87 L601.91 505.15 L602.43 504.3 L602.82 503.35 L603.07 502.35 L603.14 501.36 L603.05 500.42 L602.79 499.58 L602.39 498.88 L601.85 498.36 L601.21 498.04 L600.5 497.94Z" fill="#fff" stroke="#000" stroke-width="1.6" stroke-linejoin="round"/>
<path d="M615.75 498.89 L615.16 498.75 L614.52 498.82 L613.87 499.09 L613.24 499.55 L612.65 500.18 L612.15 500.94 L611.75 501.8 L611.47 502.71 L611.33 503.63 L611.34 504.51 L611.49 505.31 L611.77 505.99 L612.19 506.5 L612.7 506.84 L613.29 506.98 L613.92 506.91 L614.57 506.64 L615.21 506.18 L615.79 505.55 L616.3 504.79 L616.7 503.93 L616.98 503.02 L617.11 502.1 L617.11 501.22 L616.96 500.42 L616.67 499.74 L616.26 499.22Z" fill="#000" stroke="#000" stroke-width="0.6" stroke-linejoin="round"/>
<path d="M626.73 511.2 L626.36 510.64 L625.92 510.21 L625.42 509.92 L624.9 509.81 L624.37 509.86 L623.87 510.07 L623.42 510.45 L623.05 510.96 L622.76 511.58 L622.58 512.29 L622.52 513.04 L622.57 513.79 L622.74 514.52 L623.01 515.18 L623.38 515.74 L623.82 516.17 L624.32 516.45 L624.84 516.57 L625.37 516.52 L625.87 516.3 L626.32 515.93 L626.69 515.42 L626.98 514.79 L627.16 514.09 L627.22 513.34 L627.17 512.58 L627 511.86Z" fill="#000" stroke="#000" stroke-width="0.6" stroke-linejoin="round"/>
<path d="M630.37 530.15 L630.33 529.34 L630.21 528.6 L630.03 527.96 L629.79 527.45 L629.5 527.1 L629.18 526.93 L628.85 526.94 L628.52 527.14 L628.2 527.51 L627.93 528.04 L627.69 528.69 L627.52 529.45 L627.42 530.26 L627.39 531.09 L627.43 531.9 L627.55 532.64 L627.73 533.29 L627.97 533.8 L628.26 534.15 L628.58 534.32 L628.91 534.31 L629.24 534.11 L629.55 533.74 L629.83 533.21 L630.06 532.55 L630.24 531.79 L630.34 530.98Z" fill="#000" stroke="#000" stroke-width="0.6" stroke-linejoin="round"/>
<path d="M626.3 550.97 L626.58 550.15 L626.79 549.35 L626.92 548.6 L626.96 547.95 L626.92 547.42 L626.79 547.05 L626.57 546.85 L626.29 546.84 L625.95 547.01 L625.57 547.35 L625.17 547.85 L624.77 548.48 L624.39 549.21 L624.06 550.01 L623.77 550.83 L623.56 551.64 L623.43 552.39 L623.39 553.04 L623.43 553.56 L623.57 553.93 L623.78 554.13 L624.07 554.15 L624.41 553.98 L624.78 553.64 L625.18 553.14 L625.58 552.51 L625.96 551.77Z" fill="#000" stroke="#000" stroke-width="0.6" stroke-linejoin="round"/>
<path d="M615.56 569.02 L616.09 568.39 L616.54 567.73 L616.91 567.05 L617.17 566.39 L617.31 565.79 L617.32 565.27 L617.2 564.86 L616.96 564.58 L616.6 564.45 L616.16 564.47 L615.64 564.64 L615.08 564.96 L614.51 565.4 L613.94 565.94 L613.42 566.56 L612.96 567.23 L612.59 567.91 L612.33 568.57 L612.2 569.17 L612.19 569.69 L612.31 570.1 L612.55 570.37 L612.9 570.51 L613.35 570.48 L613.86 570.31 L614.42 570 L615 569.56Z" fill="#000" stroke="#000" stroke-width="0.6" stroke-linejoin="round"/>
<path d="M600.43 580.05 L601.06 579.77 L601.66 579.36 L602.19 578.83 L602.64 578.21 L602.97 577.53 L603.18 576.82 L603.24 576.13 L603.17 575.48 L602.95 574.91 L602.61 574.44 L602.15 574.1 L601.61 573.91 L601.01 573.88 L600.38 574 L599.75 574.28 L599.15 574.69 L598.61 575.22 L598.16 575.84 L597.83 576.52 L597.63 577.23 L597.56 577.93 L597.64 578.58 L597.85 579.15 L598.2 579.61 L598.65 579.95 L599.19 580.14 L599.79 580.17Z" fill="#000" stroke="#000" stroke-width="0.6" stroke-linejoin="round"/>
<path d="M584.4 580.68 L584.99 580.82 L585.63 580.74 L586.28 580.45 L586.92 579.97 L587.52 579.32 L588.03 578.53 L588.45 577.64 L588.73 576.7 L588.88 575.76 L588.89 574.85 L588.74 574.03 L588.46 573.34 L588.05 572.81 L587.54 572.47 L586.95 572.34 L586.31 572.42 L585.66 572.71 L585.01 573.19 L584.42 573.84 L583.9 574.63 L583.49 575.52 L583.2 576.46 L583.05 577.4 L583.05 578.31 L583.19 579.13 L583.48 579.82 L583.88 580.34Z" fill="#000" stroke="#000" stroke-width="0.6" stroke-linejoin="round"/>
<path d="M572.44 569.34 L572.89 569.99 L573.46 570.44 L574.13 570.69 L574.86 570.71 L575.61 570.51 L576.34 570.09 L577.03 569.49 L577.63 568.72 L578.11 567.83 L578.45 566.86 L578.64 565.85 L578.66 564.87 L578.51 563.96 L578.21 563.16 L577.75 562.52 L577.18 562.07 L576.51 561.82 L575.79 561.8 L575.04 562 L574.3 562.42 L573.61 563.02 L573.02 563.79 L572.53 564.68 L572.19 565.65 L572 566.65 L571.98 567.64 L572.13 568.55Z" fill="#fff" stroke="#000" stroke-width="1.6" stroke-linejoin="round"/>
<path d="M570.58 549.05 L570.61 549.8 L570.67 550.5 L570.76 551.12 L570.88 551.62 L571.02 551.98 L571.18 552.19 L571.34 552.22 L571.5 552.08 L571.65 551.78 L571.79 551.34 L571.9 550.76 L571.98 550.09 L572.03 549.35 L572.04 548.59 L572.02 547.84 L571.96 547.14 L571.86 546.52 L571.74 546.02 L571.6 545.66 L571.45 545.46 L571.28 545.42 L571.12 545.56 L570.97 545.86 L570.84 546.31 L570.72 546.88 L570.64 547.55 L570.6 548.29Z" fill="#000" stroke="#000" stroke-width="0.6" stroke-linejoin="round"/>
<path d="M585.07 511.26 L584.57 511.82 L584.12 512.38 L583.74 512.92 L583.44 513.42 L583.24 513.84 L583.15 514.17 L583.18 514.38 L583.32 514.48 L583.57 514.45 L583.9 514.29 L584.32 514.02 L584.79 513.65 L585.3 513.19 L585.81 512.67 L586.3 512.11 L586.75 511.55 L587.14 511.01 L587.44 510.51 L587.63 510.09 L587.72 509.76 L587.7 509.55 L587.56 509.45 L587.31 509.48 L586.97 509.64 L586.56 509.91 L586.08 510.28 L585.58 510.74Z" fill="#000" stroke="#000" stroke-width="0.6" stroke-linejoin="round"/>
<ellipse cx="600.57" cy="539.88" rx="19.66" ry="28.5" transform="rotate(18.9 600.57 539.88)" fill="none" stroke="#000" stroke-width="1.4" />
<ellipse cx="601.04" cy="540.05" rx="17.59" ry="25.5" transform="rotate(18.9 601.04 540.05)" fill="none" stroke="#000" stroke-width="1.1" />
<path d="M598.91 567.57 L599.96 567.02 L600.96 566.08 L601.85 564.78 L602.59 563.2 L603.14 561.41 L603.47 559.5 L603.58 557.57 L603.44 555.72 L603.08 554.03 L602.5 552.6 L601.74 551.49 L600.83 550.76 L599.83 550.45 L598.77 550.57 L597.72 551.12 L596.72 552.06 L595.83 553.36 L595.09 554.94 L594.54 556.73 L594.21 558.64 L594.1 560.57 L594.24 562.42 L594.6 564.11 L595.18 565.54 L595.94 566.65 L596.85 567.38 L597.85 567.69Z" fill="none" stroke="#000" stroke-width="1.3" stroke-linejoin="round"/>
<path d="M620.54 532.32 L620.36 531.01 L619.87 529.87 L619.08 528.95 L618.03 528.31 L616.78 527.97 L615.39 527.95 L613.93 528.26 L612.47 528.87 L611.09 529.77 L609.85 530.89 L608.82 532.19 L608.05 533.6 L607.57 535.05 L607.42 536.47 L607.6 537.79 L608.09 538.93 L608.88 539.85 L609.93 540.49 L611.18 540.83 L612.57 540.84 L614.03 540.54 L615.49 539.92 L616.87 539.03 L618.11 537.9 L619.14 536.6 L619.91 535.19 L620.38 533.74Z" fill="none" stroke="#000" stroke-width="1.3" stroke-linejoin="round"/>
<path d="M598.44 510.9 L597.39 511.45 L596.4 512.39 L595.51 513.69 L594.77 515.27 L594.22 517.06 L593.88 518.97 L593.78 520.9 L593.91 522.75 L594.28 524.44 L594.85 525.87 L595.61 526.98 L596.52 527.71 L597.53 528.02 L598.58 527.9 L599.64 527.36 L600.63 526.41 L601.52 525.11 L602.26 523.53 L602.81 521.74 L603.15 519.83 L603.25 517.91 L603.12 516.05 L602.75 514.37 L602.17 512.93 L601.41 511.82 L600.51 511.09 L599.5 510.78Z" fill="none" stroke="#000" stroke-width="1.3" stroke-linejoin="round"/>
<path d="M576.82 546.15 L576.99 547.46 L577.49 548.6 L578.28 549.52 L579.32 550.17 L580.57 550.5 L581.96 550.52 L583.42 550.21 L584.88 549.6 L586.26 548.7 L587.5 547.58 L588.53 546.28 L589.3 544.87 L589.78 543.42 L589.93 542 L589.76 540.69 L589.26 539.54 L588.47 538.62 L587.42 537.98 L586.17 537.64 L584.78 537.63 L583.32 537.93 L581.87 538.55 L580.48 539.44 L579.25 540.57 L578.21 541.87 L577.44 543.28 L576.97 544.73Z" fill="none" stroke="#000" stroke-width="1.3" stroke-linejoin="round"/>
<path d="M596.02 560.36 L596.57 560.11 L597.09 559.71 L597.56 559.17 L597.95 558.54 L598.24 557.84 L598.41 557.1 L598.47 556.37 L598.4 555.67 L598.21 555.05 L597.91 554.54 L597.52 554.15 L597.04 553.92 L596.52 553.85 L595.97 553.94 L595.42 554.2 L594.89 554.6 L594.43 555.13 L594.04 555.76 L593.75 556.47 L593.57 557.2 L593.52 557.94 L593.58 558.63 L593.77 559.25 L594.07 559.77 L594.47 560.15 L594.94 560.39 L595.47 560.46Z" fill="#fff" stroke="#000" stroke-width="1.6" stroke-linejoin="round"/>
<path d="M596.01 558.76 L596.28 558.63 L596.54 558.43 L596.78 558.16 L596.97 557.85 L597.11 557.5 L597.2 557.13 L597.23 556.76 L597.2 556.41 L597.1 556.1 L596.95 555.85 L596.76 555.65 L596.52 555.54 L596.26 555.5 L595.98 555.55 L595.7 555.67 L595.44 555.88 L595.21 556.14 L595.02 556.46 L594.87 556.81 L594.78 557.18 L594.75 557.54 L594.79 557.89 L594.88 558.2 L595.03 558.46 L595.23 558.65 L595.47 558.77 L595.73 558.81Z" fill="#555" stroke="#000" stroke-width="1.0" stroke-linejoin="round"/>
<path d="M612.89 532.87 L612.82 532.18 L612.63 531.56 L612.33 531.04 L611.94 530.66 L611.46 530.42 L610.94 530.35 L610.39 530.45 L609.84 530.7 L609.31 531.1 L608.85 531.63 L608.46 532.27 L608.17 532.97 L607.99 533.71 L607.93 534.44 L608 535.13 L608.19 535.76 L608.49 536.27 L608.89 536.66 L609.36 536.89 L609.89 536.96 L610.44 536.87 L610.99 536.61 L611.51 536.21 L611.98 535.68 L612.37 535.05 L612.66 534.34 L612.83 533.61Z" fill="#fff" stroke="#000" stroke-width="1.6" stroke-linejoin="round"/>
<path d="M611.65 533.26 L611.62 532.92 L611.52 532.61 L611.37 532.35 L611.17 532.16 L610.94 532.04 L610.67 532 L610.4 532.05 L610.12 532.18 L609.86 532.38 L609.63 532.65 L609.44 532.96 L609.29 533.31 L609.2 533.68 L609.17 534.05 L609.21 534.4 L609.3 534.71 L609.45 534.96 L609.65 535.16 L609.89 535.27 L610.15 535.31 L610.43 535.26 L610.7 535.13 L610.96 534.93 L611.19 534.67 L611.39 534.35 L611.53 534 L611.62 533.63Z" fill="#555" stroke="#000" stroke-width="1.0" stroke-linejoin="round"/>
<path d="M595.66 516.16 L595.11 516.42 L594.58 516.82 L594.12 517.35 L593.73 517.99 L593.44 518.69 L593.26 519.42 L593.21 520.16 L593.27 520.85 L593.46 521.47 L593.76 521.99 L594.16 522.37 L594.63 522.61 L595.16 522.68 L595.71 522.59 L596.26 522.33 L596.78 521.93 L597.25 521.4 L597.64 520.76 L597.93 520.06 L598.1 519.33 L598.16 518.59 L598.09 517.9 L597.9 517.28 L597.6 516.76 L597.21 516.38 L596.73 516.14 L596.21 516.07Z" fill="#fff" stroke="#000" stroke-width="1.6" stroke-linejoin="round"/>
<path d="M595.67 517.77 L595.39 517.9 L595.13 518.1 L594.9 518.36 L594.71 518.68 L594.56 519.03 L594.47 519.4 L594.44 519.77 L594.48 520.11 L594.57 520.42 L594.72 520.68 L594.92 520.87 L595.16 520.99 L595.42 521.03 L595.7 520.98 L595.97 520.85 L596.23 520.65 L596.47 520.39 L596.66 520.07 L596.8 519.72 L596.89 519.35 L596.92 518.98 L596.89 518.64 L596.79 518.33 L596.64 518.07 L596.45 517.88 L596.21 517.76 L595.95 517.72Z" fill="#555" stroke="#000" stroke-width="1.0" stroke-linejoin="round"/>
<path d="M578.79 543.65 L578.85 544.35 L579.04 544.97 L579.34 545.49 L579.74 545.87 L580.21 546.1 L580.74 546.18 L581.29 546.08 L581.84 545.83 L582.36 545.42 L582.83 544.89 L583.22 544.26 L583.51 543.56 L583.69 542.82 L583.74 542.09 L583.67 541.39 L583.48 540.77 L583.18 540.26 L582.79 539.87 L582.32 539.64 L581.79 539.57 L581.24 539.66 L580.69 539.91 L580.17 540.32 L579.7 540.85 L579.31 541.48 L579.02 542.18 L578.84 542.92Z" fill="#fff" stroke="#000" stroke-width="1.6" stroke-linejoin="round"/>
<path d="M580.03 543.26 L580.06 543.61 L580.15 543.92 L580.3 544.18 L580.5 544.37 L580.74 544.49 L581 544.52 L581.28 544.48 L581.55 544.35 L581.81 544.15 L582.05 543.88 L582.24 543.57 L582.39 543.22 L582.47 542.85 L582.5 542.48 L582.47 542.13 L582.37 541.82 L582.22 541.56 L582.03 541.37 L581.79 541.25 L581.53 541.22 L581.25 541.27 L580.98 541.39 L580.71 541.59 L580.48 541.86 L580.29 542.18 L580.14 542.53 L580.05 542.9Z" fill="#555" stroke="#000" stroke-width="1.0" stroke-linejoin="round"/>
<ellipse cx="595.84" cy="538.26" rx="7.87" ry="11.4" transform="rotate(18.9 595.84 538.26)" fill="#fff" stroke="#000" stroke-width="1.9" />
<ellipse cx="596.59" cy="538.52" rx="6.62" ry="9.6" transform="rotate(18.9 596.59 538.52)" fill="none" stroke="#000" stroke-width="1.2" />
</g>
<line x1="599.68" y1="519.82" x2="621.68" y2="527.35" stroke="#000" stroke-width="1.05" />
<line x1="625.68" y1="528.72" x2="631.68" y2="530.77" stroke="#000" stroke-width="1.05" />
<line x1="635.68" y1="532.14" x2="666.6" y2="542.73" stroke="#000" stroke-width="1.05" />
<line x1="614.41" y1="534.75" x2="636.41" y2="542.28" stroke="#000" stroke-width="1.05" />
<line x1="640.41" y1="543.65" x2="646.41" y2="545.71" stroke="#000" stroke-width="1.05" />
<line x1="650.41" y1="547.08" x2="671.8" y2="554.4" stroke="#000" stroke-width="1.05" />
<line x1="585.26" y1="543.67" x2="607.26" y2="551.2" stroke="#000" stroke-width="1.05" />
<line x1="611.26" y1="552.57" x2="617.26" y2="554.63" stroke="#000" stroke-width="1.05" />
<line x1="621.26" y1="556" x2="658.5" y2="568.75" stroke="#000" stroke-width="1.05" />
<line x1="599.99" y1="558.61" x2="621.99" y2="566.14" stroke="#000" stroke-width="1.05" />
<line x1="625.99" y1="567.51" x2="631.99" y2="569.56" stroke="#000" stroke-width="1.05" />
<line x1="635.99" y1="570.93" x2="663.7" y2="580.42" stroke="#000" stroke-width="1.05" />
<line x1="588" y1="535.16" x2="640" y2="552.96" stroke="#000" stroke-width="1.05" />
<line x1="644" y1="554.33" x2="651" y2="556.73" stroke="#000" stroke-width="1.05" />
<line x1="655" y1="558.1" x2="699" y2="573.16" stroke="#000" stroke-width="1.05" />
<ellipse cx="669.6" cy="543.75" rx="4.3" ry="4.9" transform="rotate(18.9 669.6 543.75)" fill="#000"/>
<path d="M669.4 541.55l-1.1 2.0M671.5 542.45l-1.0 1.8M668.7 544.55l-0.6 1.3" stroke="#bbb" stroke-width="0.7" fill="none"/>
<ellipse cx="674.8" cy="555.43" rx="4.3" ry="4.9" transform="rotate(18.9 674.8 555.43)" fill="#000"/>
<path d="M674.6 553.23l-1.1 2.0M676.7 554.13l-1.0 1.8M673.9 556.23l-0.6 1.3" stroke="#bbb" stroke-width="0.7" fill="none"/>
<ellipse cx="661.5" cy="569.77" rx="4.3" ry="4.9" transform="rotate(18.9 661.5 569.77)" fill="#000"/>
<path d="M661.3 567.57l-1.1 2.0M663.4 568.47l-1.0 1.8M660.6 570.57l-0.6 1.3" stroke="#bbb" stroke-width="0.7" fill="none"/>
<ellipse cx="666.7" cy="581.45" rx="4.3" ry="4.9" transform="rotate(18.9 666.7 581.45)" fill="#000"/>
<path d="M666.5 579.25l-1.1 2.0M668.6 580.15l-1.0 1.8M665.8 582.25l-0.6 1.3" stroke="#bbb" stroke-width="0.7" fill="none"/>
<line x1="713" y1="577.96" x2="726" y2="582.41" stroke="#000" stroke-width="1.05" />
<path d="M876.9 539.7 L873.83 537.22 L870.59 535.01 L867.2 533.07 L863.68 531.39 L860.04 529.95 L856.31 528.75 L852.5 527.77 L848.65 527.01 L844.76 526.44 L840.86 526.05 L836.95 525.88 L833 525.96 L829.04 526.28 L825.06 526.85 L821.09 527.67 L817.13 528.73 L813.2 530.03 L809.29 531.57 L805.44 533.35 L801.63 535.35 L797.9 537.57 L794.24 540.01 L790.67 542.65 L787.19 545.51 L783.82 548.55 L780.56 551.78 L777.43 555.19 L774.43 558.77 L771.57 562.51 L768.86 566.39 L766.3 570.41 L763.91 574.56 L761.68 578.82 L759.64 583.19 L757.77 587.64 L756.09 592.18 L754.6 596.78 L753.31 601.44 L752.21 606.14 L751.32 610.87 L750.63 615.61 L750.14 620.35 L749.86 625.09 L749.79 629.8 L749.93 634.47 L750.28 639.1 L750.83 643.66 L751.59 648.15 L752.55 652.55 L753.71 656.85 L755.07 661.05 L756.63 665.12 L758.37 669.05 L760.3 672.85 L762.4 676.48 L764.68 679.96 L767.13 683.26 L769.74 686.37 L772.5 689.3 L775.41 692.02 L778.45 694.54 L781.63 696.85 L784.92 698.98 L788.32 700.98 L791.81 702.81 L795.39 704.44 L799.06 705.86 L802.8 707.04 L806.6 707.95 L810.45 708.57 L814.36 708.88 L818.3 708.85 L818.3 708.85 L821.89 709.24 L825.52 709.38 L829.19 709.28 L832.88 708.94 L836.59 708.35 L840.31 707.52 L844.01 706.45 L847.71 705.14 L851.37 703.59 L855 701.81 L858.59 699.8 L862.12 697.56 L865.58 695.12 L868.97 692.47 L872.27 689.62 L875.48 686.58 L878.59 683.36 L881.58 679.96 L884.45 676.4 L887.19 672.68 L889.8 668.82 L892.27 664.83 L894.58 660.72 L896.74 656.49 L898.73 652.17 L900.56 647.75 L902.22 643.27 L903.69 638.72 L904.99 634.12 L906.1 629.49 L907.02 624.83 L907.75 620.16 L908.29 615.49 L908.63 610.84 L908.77 606.22 L908.73 601.63 L908.48 597.1 L908.04 592.64 L907.41 588.25 L906.58 583.96 L905.56 579.77 L904.36 575.69 L902.98 571.74 L901.41 567.92 L899.66 564.26 L897.74 560.78 L895.65 557.47 L893.39 554.34 L890.98 551.4 L888.42 548.66 L885.72 546.12 L882.9 543.77 L879.95 541.63 L876.9 539.7Z" fill="#fff" stroke="#000" stroke-width="1.4" stroke-linejoin="round"/>
<path d="M876.9 539.7 L873.9 539.07 L870.82 538.72 L867.67 538.65 L864.47 538.85 L861.23 539.29 L857.96 539.98 L854.67 540.9 L851.37 542.03 L848.09 543.37 L844.82 544.9 L841.58 546.63 L838.36 548.58 L835.18 550.75 L832.04 553.13 L828.95 555.71 L825.93 558.49 L822.97 561.46 L820.1 564.61 L817.31 567.93 L814.61 571.42 L812.02 575.05 L809.53 578.83 L807.16 582.74 L804.92 586.77 L802.8 590.9 L800.82 595.14 L798.98 599.46 L797.29 603.85 L795.75 608.3 L794.36 612.8 L793.14 617.33 L792.07 621.89 L791.17 626.45 L790.44 631.01 L789.88 635.56 L789.5 640.07 L789.28 644.55 L789.24 648.96 L789.38 653.31 L789.68 657.58 L790.16 661.76 L790.81 665.84 L791.63 669.79 L792.62 673.63 L793.77 677.32 L795.08 680.87 L796.55 684.26 L798.16 687.51 L799.9 690.65 L801.76 693.65 L803.75 696.49 L805.86 699.14 L808.1 701.58 L810.46 703.79 L812.95 705.76 L815.57 707.45 L818.3 708.85" fill="none" stroke="#000" stroke-width="1.4" stroke-linejoin="round"/>
<clipPath id="c848"><ellipse cx="847.7" cy="624.1" rx="31.47" ry="48.2" transform="rotate(18.9 847.7 624.1)"/></clipPath>
<g clip-path="url(#c848)">
<ellipse cx="812.4" cy="611.95" rx="30.89" ry="47.3" transform="rotate(18.9 812.4 611.95)" fill="none" stroke="#000" stroke-width="1.4" />
</g>
<ellipse cx="847.7" cy="624.1" rx="31.47" ry="48.2" transform="rotate(18.9 847.7 624.1)" fill="none" stroke="#000" stroke-width="1.4" />
<line x1="818.1" y1="613.94" x2="897" y2="640.95" stroke="#000" stroke-width="1.05" />
<circle cx="359.5" cy="176" r="2.0" fill="#000"/>
<line x1="359.5" y1="176" x2="359.5" y2="193.2" stroke="#000" stroke-width="3.0"/>
<line x1="359.5" y1="193.2" x2="359.5" y2="219.5" stroke="#000" stroke-width="1.0"/>
<rect x="330.2" y="180.19" width="5.2" height="5.2" transform="rotate(-15 332.8 182.79)" fill="#fff" stroke="#000" stroke-width="2.7"/>
<rect x="347" y="186.59" width="5.2" height="5.2" transform="rotate(25 349.6 189.19)" fill="#fff" stroke="#000" stroke-width="2.7"/>
<rect x="339.2" y="211.99" width="5.2" height="5.2" transform="rotate(-20 341.8 214.59)" fill="#fff" stroke="#000" stroke-width="2.7"/>
<rect x="321.6" y="207.79" width="5.2" height="5.2" transform="rotate(30 324.2 210.39)" fill="#fff" stroke="#000" stroke-width="2.7"/>
<ellipse cx="328.83" cy="196.8" rx="8.18" ry="12.4" transform="rotate(18.9 328.83 196.8)" fill="#fff" stroke="#000" stroke-width="2.0" />
<path d="M332.85 185.07 L340.42 187.66 L332.38 211.12 L324.81 208.53Z" fill="#fff"/>
<line x1="332.85" y1="185.07" x2="340.42" y2="187.66" stroke="#000" stroke-width="1.8" />
<line x1="324.81" y1="208.53" x2="332.38" y2="211.12" stroke="#000" stroke-width="1.8" />
<ellipse cx="332.14" cy="197.93" rx="8.05" ry="12.2" transform="rotate(18.9 332.14 197.93)" fill="none" stroke="#000" stroke-width="2.2" />
<ellipse cx="336.4" cy="199.39" rx="7.79" ry="11.8" transform="rotate(18.9 336.4 199.39)" fill="#fff" stroke="#000" stroke-width="3.8" />
<ellipse cx="335.64" cy="199.13" rx="5.68" ry="8.6" transform="rotate(18.9 335.64 199.13)" fill="none" stroke="#000" stroke-width="1.2" />
<line x1="331.67" y1="197.77" x2="341.13" y2="201.01" stroke="#000" stroke-width="1.8" />
<line x1="334.6" y1="191.89" x2="334.6" y2="200.39" stroke="#000" stroke-width="1.4" />
<line x1="334.6" y1="193.89" x2="340.9" y2="193.39" stroke="#000" stroke-width="1.3" />
<ellipse cx="353.4" cy="205.21" rx="3.04" ry="4.6" transform="rotate(18.9 353.4 205.21)" fill="#fff" stroke="#000" stroke-width="2.0" />
<path d="M354.89 200.86 L356.25 200.16 L352.55 210.95 L351.91 209.56Z" fill="#fff" stroke="none"/>
<line x1="354.89" y1="200.86" x2="356.25" y2="200.16" stroke="#000" stroke-width="1.7" />
<line x1="351.91" y1="209.56" x2="352.55" y2="210.95" stroke="#000" stroke-width="1.7" />
<ellipse cx="354.4" cy="205.55" rx="3.76" ry="5.7" transform="rotate(18.9 354.4 205.55)" fill="#fff" stroke="#000" stroke-width="1.5" />
<path d="M356.25 200.16 L364.64 202.72 L360.76 214.07 L352.55 210.95Z" fill="#fff" stroke="none"/>
<line x1="356.25" y1="200.16" x2="364.64" y2="202.72" stroke="#000" stroke-width="1.7" />
<line x1="352.55" y1="210.95" x2="360.76" y2="214.07" stroke="#000" stroke-width="1.7" />
<ellipse cx="362.7" cy="208.39" rx="3.96" ry="6" transform="rotate(18.9 362.7 208.39)" fill="#fff" stroke="#000" stroke-width="1.5" />
<line x1="354.4" y1="205.55" x2="362.2" y2="208.22" stroke="#000" stroke-width="1.2" />
<ellipse cx="363.4" cy="208.63" rx="3.78" ry="8.4" transform="rotate(18.9 363.4 208.63)" fill="#fff" stroke="#000" stroke-width="1.8" />
<ellipse cx="364.8" cy="209.11" rx="3.78" ry="8.4" transform="rotate(18.9 364.8 209.11)" fill="#fff" stroke="#000" stroke-width="1.8" />
<ellipse cx="364.8" cy="209.11" rx="2.52" ry="5.6" transform="rotate(18.9 364.8 209.11)" fill="#fff" stroke="#000" stroke-width="3.0" />
<ellipse cx="364.8" cy="209.11" rx="0.99" ry="2.2" transform="rotate(18.9 364.8 209.11)" fill="#777" stroke="#000" stroke-width="1.2" />
<circle cx="490.7" cy="153" r="2.3" fill="#fff" stroke="#000" stroke-width="2.1"/>
<line x1="489.17" y1="155.81" x2="486.41" y2="160.91" stroke="#000" stroke-width="4.0"/>
<line x1="486.41" y1="160.91" x2="472.7" y2="186.2" stroke="#000" stroke-width="1.0" />
<ellipse cx="469.6" cy="191.2" rx="2.2" ry="2.9" transform="rotate(-20 469.6 191.2)" fill="#000"/>
<circle cx="710.2" cy="534.5" r="2.0" fill="#000"/>
<line x1="710.2" y1="534.5" x2="710.2" y2="551.5" stroke="#000" stroke-width="3.0"/>
<line x1="710.2" y1="551.5" x2="710.2" y2="585.5" stroke="#000" stroke-width="1.0"/>
<ellipse cx="702.3" cy="574.29" rx="5.15" ry="8.3" transform="rotate(18.9 702.3 574.29)" fill="#fff" stroke="#000" stroke-width="2.0" />
<path d="M704.99 566.44 L706.19 566.85 L700.81 582.56 L699.61 582.14Z" fill="#fff" stroke="none"/>
<line x1="704.99" y1="566.44" x2="706.19" y2="566.85" stroke="#000" stroke-width="1.5" />
<line x1="699.61" y1="582.14" x2="700.81" y2="582.56" stroke="#000" stroke-width="1.5" />
<ellipse cx="703.5" cy="574.7" rx="5.15" ry="8.3" transform="rotate(18.9 703.5 574.7)" fill="#fff" stroke="#000" stroke-width="1.4" />
<path d="M706.19 566.85 L705.84 568.53 L701.56 581.02 L700.81 582.56Z" fill="#fff" stroke="none"/>
<line x1="706.19" y1="566.85" x2="705.84" y2="568.53" stroke="#000" stroke-width="1.5" />
<line x1="700.81" y1="582.56" x2="701.56" y2="581.02" stroke="#000" stroke-width="1.5" />
<ellipse cx="703.7" cy="574.77" rx="4.09" ry="6.6" transform="rotate(18.9 703.7 574.77)" fill="#fff" stroke="#000" stroke-width="1.4" />
<path d="M705.84 568.53 L712.44 570.79 L708.16 583.27 L701.56 581.02Z" fill="#fff" stroke="none"/>
<line x1="705.84" y1="568.53" x2="712.44" y2="570.79" stroke="#000" stroke-width="1.5" />
<line x1="701.56" y1="581.02" x2="708.16" y2="583.27" stroke="#000" stroke-width="1.5" />
<ellipse cx="710.3" cy="577.03" rx="4.09" ry="6.6" transform="rotate(18.9 710.3 577.03)" fill="#fff" stroke="#000" stroke-width="1.4" />
<path d="M712.44 570.79 L712.54 571.14 L708.46 583.06 L708.16 583.27Z" fill="#fff" stroke="none"/>
<line x1="712.44" y1="570.79" x2="712.54" y2="571.14" stroke="#000" stroke-width="1.5" />
<line x1="708.16" y1="583.27" x2="708.46" y2="583.06" stroke="#000" stroke-width="1.5" />
<ellipse cx="710.5" cy="577.1" rx="3.91" ry="6.3" transform="rotate(18.9 710.5 577.1)" fill="#000" stroke="#000" stroke-width="1.2" />
<path d="M712.54 571.14 L713.94 571.62 L709.86 583.54 L708.46 583.06Z" fill="#000" stroke="none"/>
<line x1="712.54" y1="571.14" x2="713.94" y2="571.62" stroke="#000" stroke-width="1.5" />
<line x1="708.46" y1="583.06" x2="709.86" y2="583.54" stroke="#000" stroke-width="1.5" />
<ellipse cx="711.9" cy="577.58" rx="3.91" ry="6.3" transform="rotate(18.9 711.9 577.58)" fill="#fff" stroke="#000" stroke-width="1.2" />
<line x1="703.9" y1="574.84" x2="706.9" y2="575.87" stroke="#000" stroke-width="1.1" />
<ellipse cx="712.1" cy="577.65" rx="3.47" ry="5.6" transform="rotate(18.9 712.1 577.65)" fill="#000" stroke="#000" stroke-width="1.0" />
<rect x="726" y="566.32" width="5.2" height="6.4" rx="1.2" transform="rotate(-25 728.6 569.52)" fill="#fff" stroke="#000" stroke-width="1.5"/>
<rect x="743.4" y="570.62" width="5.2" height="6.4" rx="1.2" transform="rotate(20 746 573.82)" fill="#fff" stroke="#000" stroke-width="1.5"/>
<rect x="717.6" y="591.72" width="5.2" height="6.4" rx="1.2" transform="rotate(-30 720.2 594.92)" fill="#fff" stroke="#000" stroke-width="1.5"/>
<rect x="734.4" y="597.72" width="5.2" height="6.4" rx="1.2" transform="rotate(25 737 600.92)" fill="#fff" stroke="#000" stroke-width="1.5"/>
<ellipse cx="731" cy="585.32" rx="7.2" ry="15" transform="rotate(18.9 731 585.32)" fill="#fff" stroke="#000" stroke-width="2.3" />
<path d="M735.86 571.13Q744.86 572.13 746.1 582.11L741.18 596.49Q735.14 604.51 726.14 599.51Z" fill="#fff" stroke="none"/>
<path d="M735.86 571.13Q744.86 572.13 746.1 582.11" fill="none" stroke="#000" stroke-width="2.0" />
<path d="M726.14 599.51Q735.14 604.51 741.18 596.49" fill="none" stroke="#000" stroke-width="2.0" />
<ellipse cx="742.64" cy="589.3" rx="5.02" ry="7.6" transform="rotate(18.9 742.64 589.3)" fill="#fff" stroke="#000" stroke-width="2.0" />
<line x1="732.42" y1="572.39" x2="742.86" y2="582.1" stroke="#000" stroke-width="1.9" />
<line x1="726.03" y1="579.79" x2="738.69" y2="585.87" stroke="#000" stroke-width="1.9" />
<line x1="723.19" y1="591.13" x2="737.34" y2="592.1" stroke="#000" stroke-width="1.9" />
<line x1="741.5" y1="587.71" x2="756.2" y2="592.75" stroke="#000" stroke-width="1.05" />
<circle cx="658.3" cy="471.5" r="2.3" fill="#fff" stroke="#000" stroke-width="2.1"/>
<line x1="656.98" y1="474.42" x2="654.6" y2="479.7" stroke="#000" stroke-width="4.0"/>
<line x1="654.6" y1="479.7" x2="643.8" y2="503.6" stroke="#000" stroke-width="1.0" />
<path d="M58.6 716L77.4 691.4L78.5 695.8L107.6 681.4L109.5 697.3L81.1 711.6L81.5 718.3Z" fill="#fff" stroke="#000" stroke-width="1.2" stroke-linejoin="round"/>
<path d="M58.6 716L53.8 713.1L73.4 687.5L77.4 691.4M78.9 691.6L102.5 678.7L107.6 681.4M78.9 691.6L78.5 695.8" fill="none" stroke="#000" stroke-width="1.2" stroke-linejoin="round"/>
<text transform="translate(78.3 712.2) rotate(-26.5) skewX(-12) scale(0.82 1)" font-family="'Liberation Serif', serif" font-size="17" font-weight="bold" font-style="italic" stroke="#000" stroke-width="0.4">FWD</text>
<text transform="translate(343.5 97.2) scale(0.78 1)" font-size="17.4" font-weight="bold" text-anchor="middle" stroke="#000" stroke-width="0.35">1</text>
<line x1="335" y1="99.1" x2="306.5" y2="125.4" stroke="#000" stroke-width="1.05" />
<text transform="translate(373.9 146.3) scale(0.78 1)" font-size="17.4" font-weight="bold" text-anchor="middle" stroke="#000" stroke-width="0.35">3</text>
<line x1="371.25" y1="156" x2="360.6" y2="175" stroke="#000" stroke-width="1.05" />
<text transform="translate(455.7 151.2) scale(0.78 1)" font-size="17.4" font-weight="bold" text-anchor="middle" stroke="#000" stroke-width="0.35">6</text>
<line x1="462.1" y1="151.4" x2="488.3" y2="154.3" stroke="#000" stroke-width="1.05" />
<text transform="translate(419 181.1) scale(0.78 1)" font-size="17.4" font-weight="bold" text-anchor="middle" stroke="#000" stroke-width="0.35">5</text>
<line x1="416.9" y1="185.6" x2="403.4" y2="197.2" stroke="#000" stroke-width="1.05" />
<line x1="416.9" y1="185.6" x2="409.6" y2="208.7" stroke="#000" stroke-width="1.05" />
<text transform="translate(312.2 236.9) scale(0.78 1)" font-size="17.4" font-weight="bold" text-anchor="middle" stroke="#000" stroke-width="0.35">2</text>
<line x1="322.5" y1="212.5" x2="315" y2="225" stroke="#000" stroke-width="1.05" />
<text transform="translate(343.1 241.3) scale(0.78 1)" font-size="17.4" font-weight="bold" text-anchor="middle" stroke="#000" stroke-width="0.35">4</text>
<line x1="358.75" y1="211.25" x2="346.25" y2="232.5" stroke="#000" stroke-width="1.05" />
<text transform="translate(380 265) scale(0.78 1)" font-size="17.4" font-weight="bold" text-anchor="middle" stroke="#000" stroke-width="0.35">5</text>
<line x1="382.5" y1="250" x2="390.8" y2="230.8" stroke="#000" stroke-width="1.05" />
<line x1="382.5" y1="250" x2="395.2" y2="242.8" stroke="#000" stroke-width="1.05" />
<text transform="translate(553.2 176.5) scale(0.78 1)" font-size="17.4" font-weight="bold" text-anchor="middle" stroke="#000" stroke-width="0.35">7</text>
<line x1="547.9" y1="179.8" x2="530.3" y2="200.3" stroke="#000" stroke-width="1.05" />
<text transform="translate(580.6 218.8) scale(0.78 1)" font-size="17.4" font-weight="bold" text-anchor="middle" stroke="#000" stroke-width="0.35">8</text>
<line x1="576.1" y1="221.3" x2="565.6" y2="247.8" stroke="#000" stroke-width="1.05" />
<text transform="translate(616.6 237.9) scale(0.78 1)" font-size="17.4" font-weight="bold" text-anchor="middle" stroke="#000" stroke-width="0.35">9</text>
<line x1="611.2" y1="241.5" x2="590.5" y2="264.4" stroke="#000" stroke-width="1.05" />
<line x1="611.2" y1="241.5" x2="603.2" y2="276" stroke="#000" stroke-width="1.05" />
<text transform="translate(653.5 246.1) scale(0.78 1)" font-size="17.4" font-weight="bold" text-anchor="middle" stroke="#000" stroke-width="0.35">10</text>
<line x1="653.5" y1="253.1" x2="650.2" y2="266.9" stroke="#000" stroke-width="1.05" />
<text transform="translate(690.4 260.2) scale(0.78 1)" font-size="17.4" font-weight="bold" text-anchor="middle" stroke="#000" stroke-width="0.35">11</text>
<line x1="689.1" y1="266.6" x2="690.4" y2="299.4" stroke="#000" stroke-width="1.05" />
<line x1="689.1" y1="266.6" x2="674.2" y2="307" stroke="#000" stroke-width="1.05" />
<text transform="translate(563.4 328.9) scale(0.78 1)" font-size="17.4" font-weight="bold" text-anchor="middle" stroke="#000" stroke-width="0.35">9</text>
<line x1="569.8" y1="316.8" x2="582.3" y2="289.9" stroke="#000" stroke-width="1.05" />
<line x1="569.8" y1="316.8" x2="594.7" y2="308.2" stroke="#000" stroke-width="1.05" />
<text transform="translate(670.5 363.7) scale(0.78 1)" font-size="17.4" font-weight="bold" text-anchor="middle" stroke="#000" stroke-width="0.35">11</text>
<line x1="671.8" y1="347.3" x2="670.9" y2="331.4" stroke="#000" stroke-width="1.05" />
<line x1="671.8" y1="347.3" x2="685" y2="326.6" stroke="#000" stroke-width="1.05" />
<text transform="translate(397 408.2) scale(0.78 1)" font-size="17.4" font-weight="bold" text-anchor="middle" stroke="#000" stroke-width="0.35">11</text>
<line x1="396.4" y1="415.7" x2="396.4" y2="450.3" stroke="#000" stroke-width="1.05" />
<line x1="396.4" y1="415.7" x2="380.7" y2="455.2" stroke="#000" stroke-width="1.05" />
<text transform="translate(499.8 457.1) scale(0.78 1)" font-size="17.4" font-weight="bold" text-anchor="middle" stroke="#000" stroke-width="0.35">9</text>
<line x1="495.9" y1="457.9" x2="471.8" y2="472.9" stroke="#000" stroke-width="1.05" />
<line x1="495.9" y1="457.9" x2="483.4" y2="486.9" stroke="#000" stroke-width="1.05" />
<text transform="translate(377.5 531) scale(0.78 1)" font-size="17.4" font-weight="bold" text-anchor="middle" stroke="#000" stroke-width="0.35">11</text>
<line x1="379.5" y1="512.3" x2="374.9" y2="482.4" stroke="#000" stroke-width="1.05" />
<line x1="379.5" y1="512.3" x2="389" y2="475.8" stroke="#000" stroke-width="1.05" />
<text transform="translate(412.6 546.6) scale(0.78 1)" font-size="17.4" font-weight="bold" text-anchor="middle" stroke="#000" stroke-width="0.35">10</text>
<line x1="415.5" y1="529.7" x2="417.1" y2="515.1" stroke="#000" stroke-width="1.05" />
<text transform="translate(453.4 559.5) scale(0.78 1)" font-size="17.4" font-weight="bold" text-anchor="middle" stroke="#000" stroke-width="0.35">9</text>
<line x1="456.9" y1="539.6" x2="462.7" y2="502.3" stroke="#000" stroke-width="1.05" />
<line x1="456.9" y1="539.6" x2="474.3" y2="517.2" stroke="#000" stroke-width="1.05" />
<text transform="translate(490.7 571.9) scale(0.78 1)" font-size="17.4" font-weight="bold" text-anchor="middle" stroke="#000" stroke-width="0.35">8</text>
<line x1="493.4" y1="557" x2="500" y2="536.3" stroke="#000" stroke-width="1.05" />
<text transform="translate(535.6 626.8) scale(0.78 1)" font-size="17.4" font-weight="bold" text-anchor="middle" stroke="#000" stroke-width="0.35">7</text>
<line x1="543.7" y1="587.2" x2="538" y2="608.8" stroke="#000" stroke-width="1.05" />
<text transform="translate(630.8 462.9) scale(0.78 1)" font-size="17.4" font-weight="bold" text-anchor="middle" stroke="#000" stroke-width="0.35">6</text>
<line x1="635.1" y1="462.4" x2="655.9" y2="471.2" stroke="#000" stroke-width="1.05" />
<text transform="translate(680.9 512.6) scale(0.78 1)" font-size="17.4" font-weight="bold" text-anchor="middle" stroke="#000" stroke-width="0.35">5</text>
<line x1="680.4" y1="517.1" x2="671.3" y2="540.3" stroke="#000" stroke-width="1.05" />
<line x1="680.4" y1="517.1" x2="677.9" y2="552.7" stroke="#000" stroke-width="1.05" />
<text transform="translate(646.2 619.6) scale(0.78 1)" font-size="17.4" font-weight="bold" text-anchor="middle" stroke="#000" stroke-width="0.35">5</text>
<line x1="651.4" y1="601" x2="660.5" y2="573.2" stroke="#000" stroke-width="1.05" />
<line x1="651.4" y1="601" x2="664.6" y2="586.4" stroke="#000" stroke-width="1.05" />
<text transform="translate(690.3 634.5) scale(0.78 1)" font-size="17.4" font-weight="bold" text-anchor="middle" stroke="#000" stroke-width="0.35">4</text>
<line x1="704.4" y1="582.3" x2="696.6" y2="613.8" stroke="#000" stroke-width="1.05" />
<text transform="translate(718.6 642.8) scale(0.78 1)" font-size="17.4" font-weight="bold" text-anchor="middle" stroke="#000" stroke-width="0.35">2</text>
<line x1="729.3" y1="595.5" x2="723.5" y2="626.2" stroke="#000" stroke-width="1.05" />
<text transform="translate(742.2 527) scale(0.78 1)" font-size="17.4" font-weight="bold" text-anchor="middle" stroke="#000" stroke-width="0.35">3</text>
<line x1="737.6" y1="523.7" x2="710.7" y2="534.2" stroke="#000" stroke-width="1.05" />
<text transform="translate(727 704.6) scale(0.78 1)" font-size="17.4" font-weight="bold" text-anchor="middle" stroke="#000" stroke-width="0.35">1</text>
<line x1="765.9" y1="663.5" x2="731.2" y2="689.2" stroke="#000" stroke-width="1.05" />
</svg>
</body></html>
